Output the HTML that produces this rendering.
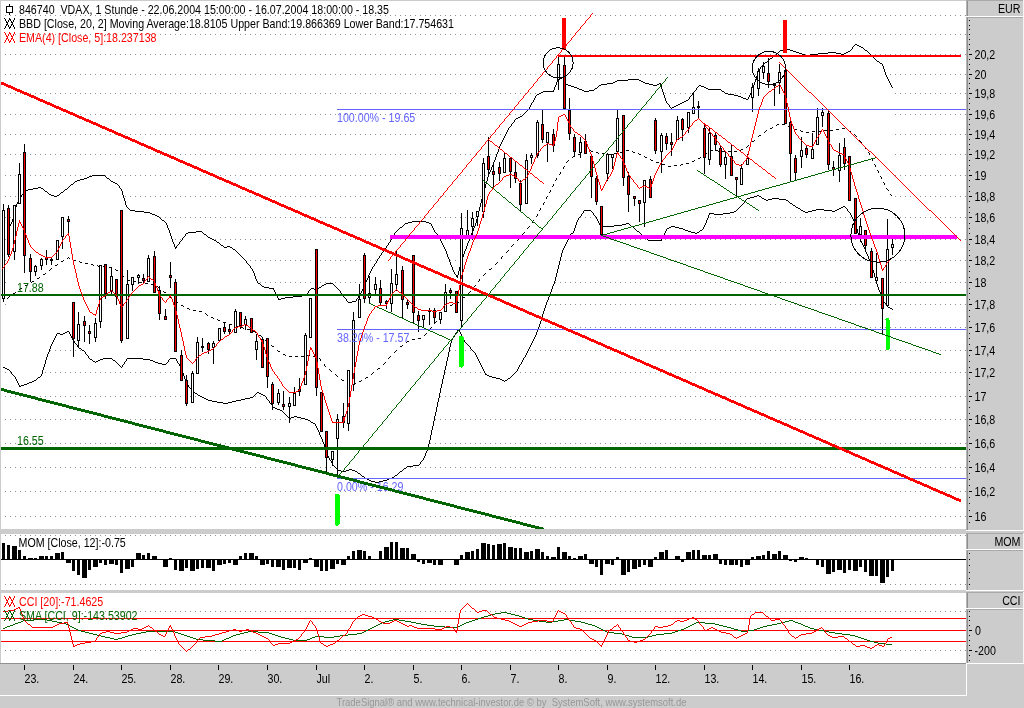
<!DOCTYPE html>
<html><head><meta charset="utf-8"><title>VDAX</title>
<style>html,body{margin:0;padding:0;background:#cccccc;}body{width:1024px;height:708px;overflow:hidden;font-family:"Liberation Sans",sans-serif;}svg{display:block;will-change:transform}text{font-family:"Liberation Sans",sans-serif;font-size:13px;}</style>
</head><body>
<svg width="1024" height="708" viewBox="0 0 1024 708" shape-rendering="crispEdges">
<rect x="0" y="0" width="1024" height="708" fill="#cccccc"/>
<rect x="1" y="1" width="965" height="528" fill="#fff"/>
<rect x="1" y="534" width="965" height="56" fill="#fff"/>
<rect x="1" y="593" width="965" height="70" fill="#fff"/>
<defs><clipPath id="cm"><rect x="1" y="1" width="965" height="528"/></clipPath><clipPath id="c2"><rect x="1" y="534" width="965" height="56"/></clipPath><clipPath id="c3"><rect x="1" y="593" width="965" height="70"/></clipPath></defs>
<g stroke="#909090" stroke-width="1" stroke-dasharray="1 4" clip-path="url(#cm)">
<line x1="5" y1="15.5" x2="966" y2="15.5"/>
<line x1="5" y1="34.5" x2="966" y2="34.5"/>
<line x1="5" y1="54.5" x2="966" y2="54.5"/>
<line x1="5" y1="74.5" x2="966" y2="74.5"/>
<line x1="5" y1="93.5" x2="966" y2="93.5"/>
<line x1="5" y1="114.5" x2="966" y2="114.5"/>
<line x1="5" y1="134.5" x2="966" y2="134.5"/>
<line x1="5" y1="154.5" x2="966" y2="154.5"/>
<line x1="5" y1="175.5" x2="966" y2="175.5"/>
<line x1="5" y1="196.5" x2="966" y2="196.5"/>
<line x1="5" y1="217.5" x2="966" y2="217.5"/>
<line x1="5" y1="239.5" x2="966" y2="239.5"/>
<line x1="5" y1="260.5" x2="966" y2="260.5"/>
<line x1="5" y1="282.5" x2="966" y2="282.5"/>
<line x1="5" y1="304.5" x2="966" y2="304.5"/>
<line x1="5" y1="327.5" x2="966" y2="327.5"/>
<line x1="5" y1="350.5" x2="966" y2="350.5"/>
<line x1="5" y1="372.5" x2="966" y2="372.5"/>
<line x1="5" y1="396.5" x2="966" y2="396.5"/>
<line x1="5" y1="419.5" x2="966" y2="419.5"/>
<line x1="5" y1="443.5" x2="966" y2="443.5"/>
<line x1="5" y1="467.5" x2="966" y2="467.5"/>
<line x1="5" y1="491.5" x2="966" y2="491.5"/>
<line x1="5" y1="516.5" x2="966" y2="516.5"/>
</g>
<g stroke="#909090" stroke-width="1" stroke-dasharray="1 4">
<line x1="5" y1="535.5" x2="966" y2="535.5"/>
<line x1="5" y1="584.5" x2="966" y2="584.5"/>
<line x1="5" y1="611.5" x2="966" y2="611.5"/>
<line x1="5" y1="650.5" x2="966" y2="650.5"/>
</g>
<g clip-path="url(#cm)">
<polygon points="9.5,227.0 12.5,220.0 16.8,204.8 20.0,197.0 25.7,190.3 40.5,187.4 51.4,195.3 56.4,196.3 67.3,188.4 75.2,181.4 85.0,178.9 93.0,175.5 104.8,175.5 110.8,180.8 116.7,183.4 121.7,189.3 126.6,206.2 130.6,210.7 148.4,212.1 158.3,216.0 166.2,223.0 175.0,248.3 186.0,233.9 190.0,232.9 201.7,231.5 208.6,237.4 215.4,240.7 224.2,247.1 229.1,246.2 235.9,250.1 244.7,259.8 252.5,269.6 257.4,282.3 264.2,287.2 273.0,288.2 278.9,299.3 287.7,297.6 299.4,296.8 305.2,295.0 311.1,288.2 316.6,289.1 326.7,283.3 332.6,283.3 338.4,289.1 344.3,297.8 348.2,302.0 355.0,301.8 359.9,295.0 364.8,285.2 371.6,269.6 380.4,255.9 391.7,239.6 395.6,232.7 405.4,223.9 414.2,221.6 424.9,221.6 430.8,223.9 435.7,232.7 438.6,236.7 446.4,252.3 453.2,271.9 457.1,277.7 460.1,264.1 464.0,252.3 469.7,239.5 475.7,224.9 481.6,200.5 488.4,175.1 493.3,163.4 499.1,147.7 505.0,134.1 509.3,127.0 515.2,119.1 521.0,116.8 528.8,109.4 536.6,95.7 544.5,91.8 553.2,91.8 557.1,80.1 562.0,77.1 566.9,84.0 575.7,87.9 585.5,91.2 593.3,90.8 601.1,84.0 612.8,83.0 618.7,80.1 638.2,79.1 646.0,83.0 655.8,85.9 660.0,83.8 662.7,90.6 666.8,102.9 671.6,108.4 677.8,105.6 687.3,100.2 693.5,92.6 699.0,85.1 703.8,86.5 709.9,89.2 720.2,89.2 725.6,93.3 736.6,95.4 747.5,99.5 750.9,94.7 754.3,83.8 758.4,71.4 761.9,66.0 769.4,59.1 776.2,54.4 780.3,50.9 788.5,49.8 800.5,53.0 806.4,55.3 814.2,54.9 822.0,53.0 833.8,52.0 843.5,54.5 849.4,51.0 855.2,44.2 862.1,47.1 869.9,53.4 876.7,60.4 882.6,64.7 886.5,76.4 892.0,87.7 892.7,309.8 887.6,306.4 882.3,299.6 876.4,282.0 871.2,264.5 865.7,250.8 859.8,237.1 855.0,224.4 850.0,213.5 844.0,206.4 833.2,211.7 830.0,210.0 818.7,209.9 805.5,212.4 795.2,206.2 785.3,199.2 773.6,198.8 766.8,200.2 758.0,195.5 752.1,197.8 747.2,198.8 741.4,205.6 735.5,211.5 728.7,213.4 718.9,214.4 709.5,213.4 706.2,221.3 702.3,229.1 696.4,233.4 689.6,231.4 681.8,228.1 672.0,226.1 667.1,228.1 664.2,233.9 661.3,240.2 648.6,240.2 641.8,234.5 634.9,228.1 628.1,223.2 619.3,225.2 609.5,226.1 600.7,226.1 595.9,216.4 590.5,210.5 584.6,210.2 577.8,220.0 573.4,232.7 570.4,234.8 562.6,250.4 555.8,279.7 546.0,303.1 538.2,328.5 533.3,340.0 524.5,357.6 516.7,371.3 510.9,377.1 504.6,381.0 499.1,378.1 493.3,377.1 485.5,374.2 475.7,353.7 465.9,342.2 458.1,329.5 451.3,340.0 446.4,363.4 440.5,390.8 434.7,418.1 428.8,446.4 424.9,457.2 418.1,465.0 407.3,466.6 393.7,477.7 385.3,480.9 377.5,482.9 369.7,480.9 361.9,475.1 356.0,471.2 350.2,469.8 344.3,471.2 338.4,470.2 333.6,465.3 328.7,457.5 324.8,445.8 319.9,433.1 315.0,424.0 307.2,419.0 299.4,417.9 295.5,416.1 289.6,418.2 281.8,410.8 273.0,407.5 268.1,400.9 264.2,395.5 257.4,392.1 252.5,397.0 238.8,400.6 225.2,403.0 209.5,400.2 197.8,394.5 192.4,391.6 186.5,383.8 181.3,368.1 175.8,358.4 170.5,358.8 165.6,364.2 159.6,363.2 148.4,359.3 138.7,358.4 127.3,358.8 121.5,367.5 116.6,362.3 111.3,358.4 105.5,358.4 100.6,359.3 95.3,362.3 89.5,358.4 84.4,351.5 78.5,347.6 73.2,340.4 68.4,331.4 62.5,334.5 57.4,333.4 51.6,344.7 46.5,358.4 41.4,375.0 35.2,380.8 25.4,384.1 19.5,386.7 14.6,376.9 8.8,369.5 3.9,367.5" fill="#fff" stroke="none"/>
<path d="M9 227.5h1M9 226.5h1M10 225.5h1M10 224.5h1M11 223.5h1M11 222.5h1M12 221.5h1M12 220.5h1M12 219.5h1M13 218.5h1M13 217.5h1M13 216.5h1M13 215.5h1M14 214.5h1M14 213.5h1M14 212.5h1M14 211.5h1M15 210.5h1M15 209.5h1M15 208.5h1M15 207.5h1M16 206.5h1M16 205.5h1M16 204.5h1M17 203.5h1M17 202.5h1M18 201.5h1M18 200.5h1M19 199.5h1M19 198.5h1M20 197.5h1M21 196.5h1M21 195.5h1M22 194.5h1M23 193.5h1M24 192.5h1M24 191.5h1M25 190.5h3M28 189.5h5M33 188.5h5M38 187.5h3M41 188.5h2M43 189.5h1M44 190.5h1M45 191.5h2M47 192.5h1M48 193.5h1M49 194.5h2M51 195.5h3M54 196.5h3M57 195.5h2M59 194.5h1M60 193.5h1M61 192.5h2M63 191.5h1M64 190.5h1M65 189.5h2M67 188.5h1M68 187.5h1M69 186.5h1M70 185.5h1M71 184.5h2M73 183.5h1M74 182.5h1M75 181.5h2M77 180.5h3M80 179.5h4M84 178.5h3M87 177.5h2M89 176.5h3M92 175.5h13M105 176.5h1M106 177.5h1M107 178.5h2M109 179.5h1M110 180.5h1M111 181.5h2M113 182.5h2M115 183.5h2M117 184.5h1M118 185.5h1M119 186.5h1M119 187.5h1M120 188.5h1M121 189.5h1M121 190.5h1M122 191.5h1M122 192.5h1M122 193.5h1M122 194.5h1M123 195.5h1M123 196.5h1M123 197.5h1M124 198.5h1M124 199.5h1M124 200.5h1M125 201.5h1M125 202.5h1M125 203.5h1M125 204.5h1M126 205.5h1M126 206.5h1M127 207.5h1M128 208.5h1M129 209.5h1M130 210.5h5M135 211.5h9M144 212.5h6M150 213.5h2M152 214.5h3M155 215.5h2M157 216.5h2M159 217.5h1M160 218.5h1M161 219.5h1M162 220.5h2M164 221.5h1M165 222.5h1M166 223.5h1M166 224.5h1M167 225.5h1M167 226.5h1M167 227.5h1M168 228.5h1M168 229.5h1M169 230.5h1M169 231.5h1M169 232.5h1M170 233.5h1M170 234.5h1M170 235.5h1M171 236.5h1M171 237.5h1M171 238.5h1M172 239.5h1M172 240.5h1M172 241.5h1M173 242.5h1M173 243.5h1M174 244.5h1M174 245.5h1M174 246.5h1M175 247.5h1M175 248.5h1M176 247.5h1M176 246.5h1M177 245.5h1M178 244.5h1M179 243.5h1M179 242.5h1M180 241.5h1M181 240.5h1M182 239.5h1M182 238.5h1M183 237.5h1M184 236.5h1M185 235.5h1M185 234.5h1M186 233.5h2M188 232.5h8M196 231.5h6M202 232.5h1M203 233.5h1M204 234.5h2M206 235.5h1M207 236.5h1M208 237.5h2M210 238.5h2M212 239.5h2M214 240.5h2M216 241.5h1M217 242.5h2M219 243.5h1M220 244.5h1M221 245.5h2M223 246.5h1M224 247.5h3M227 246.5h3M230 247.5h2M232 248.5h1M233 249.5h2M235 250.5h1M236 251.5h1M237 252.5h1M238 253.5h1M239 254.5h1M240 255.5h1M241 256.5h1M242 257.5h1M243 258.5h1M244 259.5h1M245 260.5h1M246 261.5h1M246 262.5h1M247 263.5h1M248 264.5h1M249 265.5h1M250 266.5h1M250 267.5h1M251 268.5h1M252 269.5h1M252 270.5h1M253 271.5h1M253 272.5h1M254 273.5h1M254 274.5h1M254 275.5h1M255 276.5h1M255 277.5h1M255 278.5h1M256 279.5h1M256 280.5h1M257 281.5h1M257 282.5h1M258 283.5h2M260 284.5h1M261 285.5h1M262 286.5h2M264 287.5h5M269 288.5h5M273 289.5h1M274 290.5h1M274 291.5h1M275 292.5h1M275 293.5h1M276 294.5h1M276 295.5h1M277 296.5h1M277 297.5h1M278 298.5h1M278 299.5h3M281 298.5h4M285 297.5h8M293 296.5h9M302 295.5h4M306 294.5h1M307 293.5h1M308 292.5h1M308 291.5h1M309 290.5h1M310 289.5h1M311 288.5h3M314 289.5h3M317 288.5h2M319 287.5h2M321 286.5h1M322 285.5h2M324 284.5h2M326 283.5h7M333 284.5h1M334 285.5h1M335 286.5h1M336 287.5h1M337 288.5h1M338 289.5h1M339 290.5h1M340 291.5h1M340 292.5h1M341 293.5h1M342 294.5h1M343 295.5h1M343 296.5h1M344 297.5h1M345 298.5h1M346 299.5h1M346 300.5h1M347 301.5h1M348 302.5h4M352 301.5h4M356 300.5h1M356 299.5h1M357 298.5h1M358 297.5h1M358 296.5h1M359 295.5h1M360 294.5h1M360 293.5h1M361 292.5h1M361 291.5h1M362 290.5h1M362 289.5h1M363 288.5h1M363 287.5h1M364 286.5h1M364 285.5h1M364 284.5h1M365 283.5h1M365 282.5h1M366 281.5h1M366 280.5h1M367 279.5h1M367 278.5h1M368 277.5h1M368 276.5h1M368 275.5h1M369 274.5h1M369 273.5h1M370 272.5h1M370 271.5h1M371 270.5h1M371 269.5h1M372 268.5h1M372 267.5h1M373 266.5h1M374 265.5h1M374 264.5h1M375 263.5h1M376 262.5h1M376 261.5h1M377 260.5h1M377 259.5h1M378 258.5h1M379 257.5h1M379 256.5h1M380 255.5h1M381 254.5h1M381 253.5h1M382 252.5h1M383 251.5h1M383 250.5h1M384 249.5h1M385 248.5h1M386 247.5h1M386 246.5h1M387 245.5h1M388 244.5h1M388 243.5h1M389 242.5h1M390 241.5h1M390 240.5h1M391 239.5h1M392 238.5h1M392 237.5h1M393 236.5h1M393 235.5h1M394 234.5h1M394 233.5h1M395 232.5h1M396 231.5h1M397 230.5h1M398 229.5h1M399 228.5h1M400 227.5h2M402 226.5h1M403 225.5h1M404 224.5h1M405 223.5h3M408 222.5h4M412 221.5h14M426 222.5h3M429 223.5h2M431 224.5h1M431 225.5h1M432 226.5h1M432 227.5h1M433 228.5h1M433 229.5h1M434 230.5h1M434 231.5h1M435 232.5h1M436 233.5h1M437 234.5h1M437 235.5h1M438 236.5h1M439 237.5h1M439 238.5h1M440 239.5h1M440 240.5h1M441 241.5h1M441 242.5h1M442 243.5h1M442 244.5h1M443 245.5h1M443 246.5h1M444 247.5h1M444 248.5h1M445 249.5h1M445 250.5h1M446 251.5h1M446 252.5h1M446 253.5h1M447 254.5h1M447 255.5h1M447 256.5h1M448 257.5h1M448 258.5h1M449 259.5h1M449 260.5h1M449 261.5h1M450 262.5h1M450 263.5h1M450 264.5h1M451 265.5h1M451 266.5h1M452 267.5h1M452 268.5h1M452 269.5h1M453 270.5h1M453 271.5h1M454 272.5h1M454 273.5h1M455 274.5h1M456 275.5h1M456 276.5h1M457 277.5h1M457 276.5h1M457 275.5h1M458 274.5h1M458 273.5h1M458 272.5h1M458 271.5h1M459 270.5h1M459 269.5h1M459 268.5h1M459 267.5h1M460 266.5h1M460 265.5h1M460 264.5h1M460 263.5h1M461 262.5h1M461 261.5h1M461 260.5h1M462 259.5h1M462 258.5h1M462 257.5h1M463 256.5h1M463 255.5h1M463 254.5h1M464 253.5h1M464 252.5h1M464 251.5h1M465 250.5h1M465 249.5h1M466 248.5h1M466 247.5h1M466 246.5h1M467 245.5h1M467 244.5h1M467 243.5h1M468 242.5h1M468 241.5h1M469 240.5h1M469 239.5h1M469 238.5h1M470 237.5h1M470 236.5h1M471 235.5h1M471 234.5h1M471 233.5h1M472 232.5h1M472 231.5h1M473 230.5h1M473 229.5h1M473 228.5h1M474 227.5h1M474 226.5h1M475 225.5h1M475 224.5h1M475 223.5h1M476 222.5h1M476 221.5h1M476 220.5h1M476 219.5h1M477 218.5h1M477 217.5h1M477 216.5h1M477 215.5h1M478 214.5h1M478 213.5h1M478 212.5h1M478 211.5h1M479 210.5h1M479 209.5h1M479 208.5h1M479 207.5h1M480 206.5h1M480 205.5h1M480 204.5h1M480 203.5h1M481 202.5h1M481 201.5h1M481 200.5h1M481 199.5h1M482 198.5h1M482 197.5h1M482 196.5h1M482 195.5h1M483 194.5h1M483 193.5h1M483 192.5h1M484 191.5h1M484 190.5h1M484 189.5h1M484 188.5h1M485 187.5h1M485 186.5h1M485 185.5h1M485 184.5h1M486 183.5h1M486 182.5h1M486 181.5h1M487 180.5h1M487 179.5h1M487 178.5h1M487 177.5h1M488 176.5h1M488 175.5h1M488 174.5h1M489 173.5h1M489 172.5h1M490 171.5h1M490 170.5h1M491 169.5h1M491 168.5h1M491 167.5h1M492 166.5h1M492 165.5h1M493 164.5h1M493 163.5h1M493 162.5h1M494 161.5h1M494 160.5h1M495 159.5h1M495 158.5h1M495 157.5h1M496 156.5h1M496 155.5h1M496 154.5h1M497 153.5h1M497 152.5h1M498 151.5h1M498 150.5h1M498 149.5h1M499 148.5h1M499 147.5h1M499 146.5h1M500 145.5h1M500 144.5h1M501 143.5h1M501 142.5h1M502 141.5h1M502 140.5h1M503 139.5h1M503 138.5h1M504 137.5h1M504 136.5h1M505 135.5h1M505 134.5h1M506 133.5h1M506 132.5h1M507 131.5h1M507 130.5h1M508 129.5h1M508 128.5h1M509 127.5h1M510 126.5h1M511 125.5h1M511 124.5h1M512 123.5h1M513 122.5h1M514 121.5h1M514 120.5h1M515 119.5h1M516 118.5h2M518 117.5h2M520 116.5h2M522 115.5h1M523 114.5h1M524 113.5h1M525 112.5h1M526 111.5h1M527 110.5h1M528 109.5h1M529 108.5h1M529 107.5h1M530 106.5h1M530 105.5h1M531 104.5h1M531 103.5h1M532 102.5h1M533 101.5h1M533 100.5h1M534 99.5h1M534 98.5h1M535 97.5h1M535 96.5h1M536 95.5h1M537 94.5h2M539 93.5h2M541 92.5h2M543 91.5h11M553 90.5h1M554 89.5h1M554 88.5h1M554 87.5h1M555 86.5h1M555 85.5h1M556 84.5h1M556 83.5h1M556 82.5h1M557 81.5h1M557 80.5h1M558 79.5h2M560 78.5h2M562 77.5h1M563 78.5h1M563 79.5h1M564 80.5h1M564 81.5h1M565 82.5h1M565 83.5h1M566 84.5h2M568 85.5h3M571 86.5h3M574 87.5h3M577 88.5h2M579 89.5h3M582 90.5h2M584 91.5h5M589 90.5h5M594 89.5h1M595 88.5h2M597 87.5h1M598 86.5h1M599 85.5h2M601 84.5h6M607 83.5h6M613 82.5h2M615 81.5h2M617 80.5h11M628 79.5h11M639 80.5h2M641 81.5h2M643 82.5h2M645 83.5h4M649 84.5h4M653 85.5h4M657 84.5h2M659 83.5h2M660 84.5h1M661 85.5h1M661 86.5h1M661 87.5h1M661 88.5h1M662 89.5h1M662 90.5h1M662 91.5h1M663 92.5h1M663 93.5h1M663 94.5h1M664 95.5h1M664 96.5h1M664 97.5h1M665 98.5h1M665 99.5h1M665 100.5h1M666 101.5h1M666 102.5h1M667 103.5h1M668 104.5h1M669 105.5h1M669 106.5h1M670 107.5h1M671 108.5h1M672 107.5h2M674 106.5h2M676 105.5h2M678 104.5h2M680 103.5h2M682 102.5h2M684 101.5h2M686 100.5h2M688 99.5h1M689 98.5h1M689 97.5h1M690 96.5h1M691 95.5h1M692 94.5h1M692 93.5h1M693 92.5h1M694 91.5h1M695 90.5h1M696 89.5h1M696 88.5h1M697 87.5h1M698 86.5h1M699 85.5h2M701 86.5h3M704 87.5h2M706 88.5h2M708 89.5h13M721 90.5h1M722 91.5h2M724 92.5h1M725 93.5h3M728 94.5h6M734 95.5h4M738 96.5h3M741 97.5h2M743 98.5h3M746 99.5h2M748 98.5h1M748 97.5h1M749 96.5h1M749 95.5h1M750 94.5h1M750 93.5h1M751 92.5h1M751 91.5h1M751 90.5h1M752 89.5h1M752 88.5h1M753 87.5h1M753 86.5h1M753 85.5h1M754 84.5h1M754 83.5h1M754 82.5h1M755 81.5h1M755 80.5h1M755 79.5h1M756 78.5h1M756 77.5h1M756 76.5h1M757 75.5h1M757 74.5h1M757 73.5h1M758 72.5h1M758 71.5h1M759 70.5h1M759 69.5h1M760 68.5h1M760 67.5h1M761 66.5h1M762 65.5h1M763 64.5h1M764 63.5h1M765 62.5h2M767 61.5h1M768 60.5h1M769 59.5h1M770 58.5h2M772 57.5h1M773 56.5h1M774 55.5h2M776 54.5h1M777 53.5h1M778 52.5h1M779 51.5h1M780 50.5h4M784 49.5h6M790 50.5h3M793 51.5h3M796 52.5h3M799 53.5h3M802 54.5h3M805 55.5h5M810 54.5h8M818 53.5h10M828 52.5h8M836 53.5h5M841 54.5h3M844 53.5h2M846 52.5h2M848 51.5h2M850 50.5h1M851 49.5h1M852 48.5h1M852 47.5h1M853 46.5h1M854 45.5h1M855 44.5h2M857 45.5h2M859 46.5h2M861 47.5h2M863 48.5h1M864 49.5h1M865 50.5h2M867 51.5h1M868 52.5h1M869 53.5h1M870 54.5h1M871 55.5h1M872 56.5h1M873 57.5h1M874 58.5h1M875 59.5h1M876 60.5h1M877 61.5h2M879 62.5h1M880 63.5h2M882 64.5h1M882 65.5h1M883 66.5h1M883 67.5h1M883 68.5h1M884 69.5h1M884 70.5h1M884 71.5h1M885 72.5h1M885 73.5h1M885 74.5h1M886 75.5h1M886 76.5h1M887 77.5h1M887 78.5h1M888 79.5h1M888 80.5h1M889 81.5h1M889 82.5h1M890 83.5h1M890 84.5h1M891 85.5h1M891 86.5h1M892 87.5h1" stroke="#000" stroke-width="1" fill="none"/>
<path d="M3 367.5h2M5 368.5h2M7 369.5h2M9 370.5h1M10 371.5h1M11 372.5h1M11 373.5h1M12 374.5h1M13 375.5h1M14 376.5h1M15 377.5h1M15 378.5h1M16 379.5h1M16 380.5h1M17 381.5h1M17 382.5h1M18 383.5h1M18 384.5h1M19 385.5h1M19 386.5h2M21 385.5h3M24 384.5h3M27 383.5h2M29 382.5h3M32 381.5h2M34 380.5h2M36 379.5h1M37 378.5h1M38 377.5h2M40 376.5h1M41 375.5h1M41 374.5h1M42 373.5h1M42 372.5h1M42 371.5h1M42 370.5h1M43 369.5h1M43 368.5h1M43 367.5h1M44 366.5h1M44 365.5h1M44 364.5h1M45 363.5h1M45 362.5h1M45 361.5h1M45 360.5h1M46 359.5h1M46 358.5h1M46 357.5h1M47 356.5h1M47 355.5h1M47 354.5h1M48 353.5h1M48 352.5h1M49 351.5h1M49 350.5h1M49 349.5h1M50 348.5h1M50 347.5h1M50 346.5h1M51 345.5h1M51 344.5h1M52 343.5h1M52 342.5h1M53 341.5h1M53 340.5h1M54 339.5h1M54 338.5h1M55 337.5h1M55 336.5h1M56 335.5h1M56 334.5h1M57 333.5h3M60 334.5h3M63 333.5h2M65 332.5h2M67 331.5h2M69 332.5h1M69 333.5h1M70 334.5h1M70 335.5h1M71 336.5h1M71 337.5h1M72 338.5h1M72 339.5h1M73 340.5h1M74 341.5h1M74 342.5h1M75 343.5h1M76 344.5h1M77 345.5h1M77 346.5h1M78 347.5h1M79 348.5h2M81 349.5h1M82 350.5h2M84 351.5h1M85 352.5h1M85 353.5h1M86 354.5h1M87 355.5h1M88 356.5h1M88 357.5h1M89 358.5h1M90 359.5h2M92 360.5h1M93 361.5h2M95 362.5h1M96 361.5h2M98 360.5h2M100 359.5h3M103 358.5h9M112 359.5h1M113 360.5h2M115 361.5h1M116 362.5h1M117 363.5h1M118 364.5h1M119 365.5h1M120 366.5h1M121 367.5h1M122 366.5h1M122 365.5h1M123 364.5h1M124 363.5h1M124 362.5h1M125 361.5h1M126 360.5h1M126 359.5h1M127 358.5h16M143 359.5h7M150 360.5h3M153 361.5h2M155 362.5h3M158 363.5h4M162 364.5h4M166 363.5h1M167 362.5h1M168 361.5h1M168 360.5h1M169 359.5h1M170 358.5h6M176 359.5h1M176 360.5h1M177 361.5h1M177 362.5h1M178 363.5h1M179 364.5h1M179 365.5h1M180 366.5h1M180 367.5h1M181 368.5h1M181 369.5h1M182 370.5h1M182 371.5h1M182 372.5h1M183 373.5h1M183 374.5h1M183 375.5h1M184 376.5h1M184 377.5h1M184 378.5h1M185 379.5h1M185 380.5h1M185 381.5h1M186 382.5h1M186 383.5h1M187 384.5h1M188 385.5h1M188 386.5h1M189 387.5h1M190 388.5h1M191 389.5h1M191 390.5h1M192 391.5h1M193 392.5h2M195 393.5h2M197 394.5h1M198 395.5h2M200 396.5h2M202 397.5h2M204 398.5h2M206 399.5h2M208 400.5h4M212 401.5h5M217 402.5h6M223 403.5h5M228 402.5h4M232 401.5h4M236 400.5h5M241 399.5h4M245 398.5h5M250 397.5h3M253 396.5h1M254 395.5h1M255 394.5h1M256 393.5h1M257 392.5h2M259 393.5h2M261 394.5h2M263 395.5h2M265 396.5h1M266 397.5h1M266 398.5h1M267 399.5h1M268 400.5h1M269 401.5h1M269 402.5h1M270 403.5h1M271 404.5h1M272 405.5h1M272 406.5h1M273 407.5h2M275 408.5h2M277 409.5h3M280 410.5h2M282 411.5h1M283 412.5h1M284 413.5h1M285 414.5h1M286 415.5h1M287 416.5h1M288 417.5h1M289 418.5h2M291 417.5h3M294 416.5h3M297 417.5h4M301 418.5h4M305 419.5h3M308 420.5h2M310 421.5h1M311 422.5h2M313 423.5h2M315 424.5h1M315 425.5h1M316 426.5h1M316 427.5h1M317 428.5h1M317 429.5h1M318 430.5h1M318 431.5h1M319 432.5h1M319 433.5h1M319 434.5h1M320 435.5h1M320 436.5h1M321 437.5h1M321 438.5h1M322 439.5h1M322 440.5h1M322 441.5h1M323 442.5h1M323 443.5h1M324 444.5h1M324 445.5h1M324 446.5h1M325 447.5h1M325 448.5h1M325 449.5h1M326 450.5h1M326 451.5h1M326 452.5h1M327 453.5h1M327 454.5h1M327 455.5h1M328 456.5h1M328 457.5h1M329 458.5h1M329 459.5h1M330 460.5h1M331 461.5h1M331 462.5h1M332 463.5h1M332 464.5h1M333 465.5h1M334 466.5h1M335 467.5h1M336 468.5h1M337 469.5h1M338 470.5h3M341 471.5h5M346 470.5h3M349 469.5h3M352 470.5h3M355 471.5h2M357 472.5h1M358 473.5h2M360 474.5h1M361 475.5h1M362 476.5h2M364 477.5h1M365 478.5h2M367 479.5h2M369 480.5h2M371 481.5h4M375 482.5h4M379 481.5h4M383 480.5h4M387 479.5h2M389 478.5h3M392 477.5h2M394 476.5h1M395 475.5h2M397 474.5h1M398 473.5h1M399 472.5h1M400 471.5h2M402 470.5h1M403 469.5h1M404 468.5h2M406 467.5h1M407 466.5h6M413 465.5h6M419 464.5h1M420 463.5h1M420 462.5h1M421 461.5h1M422 460.5h1M423 459.5h1M423 458.5h1M424 457.5h1M424 456.5h1M425 455.5h1M425 454.5h1M425 453.5h1M426 452.5h1M426 451.5h1M427 450.5h1M427 449.5h1M427 448.5h1M428 447.5h1M428 446.5h1M428 445.5h1M428 444.5h1M429 443.5h1M429 442.5h1M429 441.5h1M429 440.5h1M430 439.5h1M430 438.5h1M430 437.5h1M430 436.5h1M430 435.5h1M431 434.5h1M431 433.5h1M431 432.5h1M431 431.5h1M431 430.5h1M432 429.5h1M432 428.5h1M432 427.5h1M432 426.5h1M433 425.5h1M433 424.5h1M433 423.5h1M433 422.5h1M433 421.5h1M434 420.5h1M434 419.5h1M434 418.5h1M434 417.5h1M434 416.5h1M435 415.5h1M435 414.5h1M435 413.5h1M435 412.5h1M436 411.5h1M436 410.5h1M436 409.5h1M436 408.5h1M436 407.5h1M437 406.5h1M437 405.5h1M437 404.5h1M437 403.5h1M437 402.5h1M438 401.5h1M438 400.5h1M438 399.5h1M438 398.5h1M439 397.5h1M439 396.5h1M439 395.5h1M439 394.5h1M439 393.5h1M440 392.5h1M440 391.5h1M440 390.5h1M440 389.5h1M440 388.5h1M441 387.5h1M441 386.5h1M441 385.5h1M441 384.5h1M442 383.5h1M442 382.5h1M442 381.5h1M442 380.5h1M442 379.5h1M443 378.5h1M443 377.5h1M443 376.5h1M443 375.5h1M444 374.5h1M444 373.5h1M444 372.5h1M444 371.5h1M444 370.5h1M445 369.5h1M445 368.5h1M445 367.5h1M445 366.5h1M446 365.5h1M446 364.5h1M446 363.5h1M446 362.5h1M446 361.5h1M447 360.5h1M447 359.5h1M447 358.5h1M447 357.5h1M448 356.5h1M448 355.5h1M448 354.5h1M448 353.5h1M448 352.5h1M449 351.5h1M449 350.5h1M449 349.5h1M449 348.5h1M449 347.5h1M450 346.5h1M450 345.5h1M450 344.5h1M450 343.5h1M451 342.5h1M451 341.5h1M451 340.5h1M452 339.5h1M452 338.5h1M453 337.5h1M454 336.5h1M454 335.5h1M455 334.5h1M455 333.5h1M456 332.5h1M457 331.5h1M457 330.5h1M458 329.5h1M459 330.5h1M459 331.5h1M460 332.5h1M460 333.5h1M461 334.5h1M461 335.5h1M462 336.5h1M462 337.5h1M463 338.5h1M463 339.5h1M464 340.5h1M464 341.5h1M465 342.5h1M466 343.5h1M467 344.5h1M468 345.5h1M469 346.5h1M470 347.5h1M470 348.5h1M471 349.5h1M472 350.5h1M473 351.5h1M474 352.5h1M475 353.5h1M475 354.5h1M476 355.5h1M476 356.5h1M477 357.5h1M477 358.5h1M478 359.5h1M478 360.5h1M479 361.5h1M479 362.5h1M480 363.5h1M480 364.5h1M481 365.5h1M481 366.5h1M482 367.5h1M482 368.5h1M483 369.5h1M483 370.5h1M484 371.5h1M484 372.5h1M485 373.5h1M485 374.5h2M487 375.5h2M489 376.5h3M492 377.5h4M496 378.5h4M500 379.5h2M502 380.5h2M504 381.5h1M505 380.5h2M507 379.5h1M508 378.5h2M510 377.5h1M511 376.5h1M512 375.5h1M513 374.5h1M514 373.5h1M515 372.5h1M516 371.5h1M517 370.5h1M517 369.5h1M518 368.5h1M518 367.5h1M519 366.5h1M519 365.5h1M520 364.5h1M521 363.5h1M521 362.5h1M522 361.5h1M522 360.5h1M523 359.5h1M523 358.5h1M524 357.5h1M525 356.5h1M525 355.5h1M526 354.5h1M526 353.5h1M527 352.5h1M527 351.5h1M528 350.5h1M528 349.5h1M529 348.5h1M529 347.5h1M530 346.5h1M530 345.5h1M531 344.5h1M531 343.5h1M532 342.5h1M532 341.5h1M533 340.5h1M533 339.5h1M534 338.5h1M534 337.5h1M535 336.5h1M535 335.5h1M536 334.5h1M536 333.5h1M536 332.5h1M537 331.5h1M537 330.5h1M538 329.5h1M538 328.5h1M538 327.5h1M539 326.5h1M539 325.5h1M539 324.5h1M540 323.5h1M540 322.5h1M540 321.5h1M541 320.5h1M541 319.5h1M541 318.5h1M542 317.5h1M542 316.5h1M542 315.5h1M542 314.5h1M543 313.5h1M543 312.5h1M543 311.5h1M544 310.5h1M544 309.5h1M544 308.5h1M545 307.5h1M545 306.5h1M545 305.5h1M546 304.5h1M546 303.5h1M546 302.5h1M547 301.5h1M547 300.5h1M548 299.5h1M548 298.5h1M548 297.5h1M549 296.5h1M549 295.5h1M549 294.5h1M550 293.5h1M550 292.5h1M551 291.5h1M551 290.5h1M551 289.5h1M552 288.5h1M552 287.5h1M552 286.5h1M553 285.5h1M553 284.5h1M554 283.5h1M554 282.5h1M554 281.5h1M555 280.5h1M555 279.5h1M555 278.5h1M555 277.5h1M556 276.5h1M556 275.5h1M556 274.5h1M556 273.5h1M557 272.5h1M557 271.5h1M557 270.5h1M557 269.5h1M558 268.5h1M558 267.5h1M558 266.5h1M558 265.5h1M559 264.5h1M559 263.5h1M559 262.5h1M559 261.5h1M560 260.5h1M560 259.5h1M560 258.5h1M560 257.5h1M561 256.5h1M561 255.5h1M561 254.5h1M561 253.5h1M562 252.5h1M562 251.5h1M562 250.5h1M563 249.5h1M563 248.5h1M564 247.5h1M564 246.5h1M565 245.5h1M565 244.5h1M566 243.5h1M566 242.5h1M567 241.5h1M567 240.5h1M568 239.5h1M568 238.5h1M569 237.5h1M569 236.5h1M570 235.5h1M570 234.5h1M571 233.5h2M573 232.5h1M573 231.5h1M574 230.5h1M574 229.5h1M574 228.5h1M575 227.5h1M575 226.5h1M575 225.5h1M576 224.5h1M576 223.5h1M576 222.5h1M577 221.5h1M577 220.5h1M578 219.5h1M578 218.5h1M579 217.5h1M580 216.5h1M581 215.5h1M581 214.5h1M582 213.5h1M583 212.5h1M583 211.5h1M584 210.5h7M591 211.5h1M592 212.5h1M593 213.5h1M593 214.5h1M594 215.5h1M595 216.5h1M596 217.5h1M596 218.5h1M597 219.5h1M597 220.5h1M598 221.5h1M598 222.5h1M599 223.5h1M599 224.5h1M600 225.5h1M600 226.5h14M614 225.5h8M622 224.5h4M626 223.5h3M629 224.5h1M630 225.5h1M631 226.5h2M633 227.5h1M634 228.5h1M635 229.5h1M636 230.5h1M637 231.5h2M639 232.5h1M640 233.5h1M641 234.5h1M642 235.5h1M643 236.5h1M644 237.5h2M646 238.5h1M647 239.5h1M648 240.5h14M661 239.5h1M662 238.5h1M662 237.5h1M663 236.5h1M663 235.5h1M664 234.5h1M664 233.5h1M665 232.5h1M665 231.5h1M666 230.5h1M666 229.5h1M667 228.5h2M669 227.5h2M671 226.5h4M675 227.5h4M679 228.5h4M683 229.5h2M685 230.5h3M688 231.5h3M691 232.5h4M695 233.5h2M697 232.5h2M699 231.5h1M700 230.5h2M702 229.5h1M703 228.5h1M703 227.5h1M704 226.5h1M704 225.5h1M705 224.5h1M705 223.5h1M706 222.5h1M706 221.5h1M706 220.5h1M707 219.5h1M707 218.5h1M708 217.5h1M708 216.5h1M708 215.5h1M709 214.5h1M709 213.5h5M714 214.5h9M723 213.5h7M730 212.5h4M734 211.5h2M736 210.5h1M737 209.5h1M738 208.5h1M739 207.5h1M740 206.5h1M741 205.5h1M742 204.5h1M743 203.5h1M744 202.5h1M744 201.5h1M745 200.5h1M746 199.5h1M747 198.5h3M750 197.5h4M754 196.5h3M757 195.5h2M759 196.5h2M761 197.5h1M762 198.5h2M764 199.5h2M766 200.5h2M768 199.5h4M772 198.5h7M779 199.5h7M786 200.5h2M788 201.5h1M789 202.5h1M790 203.5h2M792 204.5h1M793 205.5h2M795 206.5h1M796 207.5h2M798 208.5h2M800 209.5h1M801 210.5h2M803 211.5h2M805 212.5h3M808 211.5h4M812 210.5h4M816 209.5h8M824 210.5h8M832 211.5h3M835 210.5h2M837 209.5h2M839 208.5h2M841 207.5h2M843 206.5h2M845 207.5h1M846 208.5h1M847 209.5h1M847 210.5h1M848 211.5h1M849 212.5h1M850 213.5h1M850 214.5h1M851 215.5h1M851 216.5h1M852 217.5h1M852 218.5h1M853 219.5h1M853 220.5h1M854 221.5h1M854 222.5h1M855 223.5h1M855 224.5h1M855 225.5h1M856 226.5h1M856 227.5h1M856 228.5h1M857 229.5h1M857 230.5h1M857 231.5h1M857 232.5h1M858 233.5h1M858 234.5h1M858 235.5h1M859 236.5h1M859 237.5h1M859 238.5h1M860 239.5h1M860 240.5h1M861 241.5h1M861 242.5h1M862 243.5h1M862 244.5h1M863 245.5h1M863 246.5h1M864 247.5h1M864 248.5h1M865 249.5h1M865 250.5h1M865 251.5h1M866 252.5h1M866 253.5h1M867 254.5h1M867 255.5h1M868 256.5h1M868 257.5h1M868 258.5h1M869 259.5h1M869 260.5h1M870 261.5h1M870 262.5h1M871 263.5h1M871 264.5h1M871 265.5h1M872 266.5h1M872 267.5h1M872 268.5h1M872 269.5h1M873 270.5h1M873 271.5h1M873 272.5h1M874 273.5h1M874 274.5h1M874 275.5h1M874 276.5h1M875 277.5h1M875 278.5h1M875 279.5h1M875 280.5h1M876 281.5h1M876 282.5h1M876 283.5h1M877 284.5h1M877 285.5h1M877 286.5h1M878 287.5h1M878 288.5h1M878 289.5h1M879 290.5h1M879 291.5h1M880 292.5h1M880 293.5h1M880 294.5h1M881 295.5h1M881 296.5h1M881 297.5h1M882 298.5h1M882 299.5h1M883 300.5h1M883 301.5h1M884 302.5h1M885 303.5h1M886 304.5h1M886 305.5h1M887 306.5h1M888 307.5h2M890 308.5h2M892 309.5h1" stroke="#000" stroke-width="1" fill="none"/>
<path d="M7 298.5h1M8 297.5h1M9 296.5h1M13 293.5h2M15 292.5h1M19 289.5h1M20 288.5h2M25 285.5h2M27 284.5h1M31 282.5h1M32 281.5h2M37 278.5h2M39 277.5h1M43 274.5h2M45 273.5h1M49 270.5h1M50 269.5h1M51 268.5h1M55 265.5h2M57 264.5h1M61 261.5h2M63 260.5h1M67 258.5h1M68 257.5h1M69 258.5h1M73 260.5h3M79 261.5h1M80 262.5h2M85 263.5h3M91 264.5h2M93 265.5h1M97 265.5h1M98 266.5h2M103 266.5h3M109 267.5h3M115 269.5h1M116 270.5h2M121 274.5h1M122 275.5h1M123 276.5h1M127 280.5h3M133 281.5h3M139 282.5h3M145 283.5h3M151 284.5h3M157 286.5h1M158 287.5h1M159 288.5h1M163 291.5h1M164 292.5h2M169 296.5h1M170 297.5h2M175 301.5h1M176 302.5h2M181 305.5h2M183 306.5h1M187 308.5h2M189 309.5h1M193 310.5h3M199 311.5h3M205 313.5h1M206 314.5h1M207 315.5h1M211 317.5h2M213 318.5h1M217 319.5h1M218 320.5h2M223 322.5h3M229 324.5h3M235 326.5h3M241 327.5h2M243 328.5h1M247 329.5h3M253 331.5h2M255 332.5h1M259 335.5h2M261 336.5h1M265 340.5h2M267 341.5h1M271 345.5h1M272 346.5h2M277 350.5h1M278 351.5h2M283 354.5h2M285 355.5h1M289 356.5h3M295 356.5h3M301 356.5h3M307 355.5h3M313 356.5h3M319 358.5h1M320 359.5h1M320 360.5h1M324 364.5h1M324 365.5h1M325 366.5h1M329 369.5h1M330 370.5h1M331 371.5h1M335 374.5h1M336 375.5h1M337 376.5h1M341 379.5h1M342 380.5h2M347 382.5h3M353 383.5h3M359 381.5h2M361 380.5h1M365 378.5h1M366 377.5h2M371 374.5h1M372 373.5h1M373 372.5h1M377 369.5h1M378 368.5h2M383 364.5h1M384 363.5h1M385 362.5h1M388 358.5h1M389 357.5h1M390 356.5h1M394 352.5h1M395 351.5h1M396 350.5h1M400 346.5h2M402 345.5h1M406 342.5h1M407 341.5h2M412 339.5h3M418 338.5h3M424 335.5h1M425 334.5h1M426 333.5h1M429 329.5h1M430 328.5h1M431 327.5h1M434 323.5h1M435 322.5h1M436 321.5h1M439 317.5h1M440 316.5h1M441 315.5h1M445 311.5h1M445 310.5h1M446 309.5h1M450 305.5h2M452 304.5h1M456 303.5h1M457 302.5h2M462 298.5h1M463 297.5h2M468 293.5h1M469 292.5h1M470 291.5h1M473 287.5h1M474 286.5h1M475 285.5h1M478 281.5h1M479 280.5h1M479 279.5h1M483 275.5h1M484 274.5h1M485 273.5h1M489 269.5h2M491 268.5h1M495 264.5h1M496 263.5h1M497 262.5h1M501 258.5h1M501 257.5h1M502 256.5h1M506 252.5h1M507 251.5h1M508 250.5h1M511 246.5h1M512 245.5h1M513 244.5h1M517 240.5h1M518 239.5h1M518 238.5h1M522 234.5h1M523 233.5h1M524 232.5h1M527 228.5h1M528 227.5h1M529 226.5h1M532 222.5h1M532 221.5h1M533 220.5h1M536 216.5h1M537 215.5h1M537 214.5h1M539 210.5h1M540 209.5h1M540 208.5h1M543 204.5h1M543 203.5h1M544 202.5h1M546 198.5h1M546 197.5h1M547 196.5h1M549 192.5h1M550 191.5h1M550 190.5h1M552 186.5h1M553 185.5h1M553 184.5h1M555 180.5h1M556 179.5h1M556 178.5h1M559 174.5h1M560 173.5h1M560 172.5h1M563 168.5h1M563 167.5h1M564 166.5h1M566 162.5h1M567 161.5h1M568 160.5h1M572 157.5h1M573 156.5h2M578 154.5h2M580 153.5h1M584 152.5h1M585 151.5h2M590 150.5h1M591 151.5h2M596 152.5h2M598 153.5h1M602 153.5h3M608 154.5h3M614 153.5h3M620 152.5h2M622 151.5h1M626 150.5h3M632 151.5h1M633 152.5h2M638 153.5h1M639 154.5h2M644 156.5h1M645 157.5h2M650 159.5h1M651 160.5h2M656 162.5h3M662 164.5h3M668 166.5h3M674 165.5h3M680 165.5h1M681 164.5h2M686 163.5h3M692 161.5h2M694 160.5h1M698 158.5h2M700 157.5h1M704 154.5h1M705 153.5h2M710 150.5h3M716 150.5h2M718 151.5h1M722 151.5h3M728 151.5h3M734 151.5h3M740 150.5h1M741 149.5h2M746 147.5h1M747 146.5h1M748 145.5h1M752 141.5h2M754 140.5h1M758 136.5h1M759 135.5h2M764 132.5h1M765 131.5h1M766 130.5h1M770 128.5h2M772 127.5h1M776 125.5h1M777 124.5h2M782 124.5h3M788 126.5h2M790 127.5h1M794 129.5h3M800 130.5h1M801 131.5h2M806 132.5h3M812 131.5h3M818 131.5h3M824 130.5h3M830 130.5h3M836 129.5h3M842 128.5h3M848 130.5h1M849 131.5h2M854 134.5h1M855 135.5h1M856 136.5h1M859 140.5h1M860 141.5h1M861 142.5h1M864 146.5h1M865 147.5h1M865 148.5h1M868 152.5h1M869 153.5h1M869 154.5h1M871 158.5h1M872 159.5h1M872 160.5h1M874 164.5h1M875 165.5h1M875 166.5h1M877 170.5h1M878 171.5h1M878 172.5h1M880 176.5h1M881 177.5h1M881 178.5h1M883 182.5h1M884 183.5h1M884 184.5h1M886 188.5h1M887 189.5h1M888 190.5h1M890 194.5h1M891 195.5h1" stroke="#000" stroke-width="1" fill="none"/>
<g>
<rect x="3" y="204" width="1" height="98" fill="#000"/>
<rect x="2" y="210" width="3" height="89" fill="#000"/>
<rect x="3" y="211" width="1" height="87" fill="#fff"/>
<rect x="8" y="205" width="1" height="52" fill="#000"/>
<rect x="7" y="208" width="3" height="47" fill="#000"/>
<rect x="8" y="209" width="1" height="45" fill="#ff0000"/>
<rect x="14" y="205" width="1" height="55" fill="#000"/>
<rect x="13" y="205" width="3" height="47" fill="#000"/>
<rect x="14" y="206" width="1" height="45" fill="#fff"/>
<rect x="19" y="163" width="1" height="41" fill="#000"/>
<rect x="18" y="174" width="3" height="30" fill="#000"/>
<rect x="19" y="175" width="1" height="28" fill="#fff"/>
<rect x="24" y="144" width="1" height="129" fill="#000"/>
<rect x="23" y="152" width="3" height="104" fill="#000"/>
<rect x="24" y="153" width="1" height="102" fill="#ff0000"/>
<rect x="30" y="254" width="1" height="28" fill="#000"/>
<rect x="29" y="258" width="3" height="14" fill="#000"/>
<rect x="30" y="259" width="1" height="12" fill="#ff0000"/>
<rect x="35" y="265" width="1" height="11" fill="#000"/>
<rect x="34" y="266" width="3" height="6" fill="#000"/>
<rect x="35" y="267" width="1" height="4" fill="#fff"/>
<rect x="41" y="258" width="1" height="12" fill="#000"/>
<rect x="40" y="259" width="3" height="7" fill="#000"/>
<rect x="41" y="260" width="1" height="5" fill="#fff"/>
<rect x="46" y="250" width="1" height="15" fill="#000"/>
<rect x="45" y="257" width="3" height="3" fill="#000"/>
<rect x="46" y="258" width="1" height="1" fill="#ff0000"/>
<rect x="51" y="257" width="1" height="8" fill="#000"/>
<rect x="50" y="259" width="3" height="2" fill="#000"/>
<rect x="57" y="240" width="1" height="20" fill="#000"/>
<rect x="56" y="240" width="3" height="20" fill="#000"/>
<rect x="57" y="241" width="1" height="18" fill="#fff"/>
<rect x="62" y="217" width="1" height="32" fill="#000"/>
<rect x="61" y="217" width="3" height="20" fill="#000"/>
<rect x="62" y="218" width="1" height="18" fill="#fff"/>
<rect x="68" y="216" width="1" height="17" fill="#000"/>
<rect x="67" y="219" width="3" height="3" fill="#000"/>
<rect x="68" y="220" width="1" height="1" fill="#ff0000"/>
<rect x="73" y="302" width="1" height="55" fill="#000"/>
<rect x="72" y="302" width="3" height="37" fill="#000"/>
<rect x="73" y="303" width="1" height="35" fill="#ff0000"/>
<rect x="78" y="312" width="1" height="36" fill="#000"/>
<rect x="77" y="324" width="3" height="17" fill="#000"/>
<rect x="78" y="325" width="1" height="15" fill="#fff"/>
<rect x="84" y="316" width="1" height="26" fill="#000"/>
<rect x="83" y="321" width="3" height="5" fill="#000"/>
<rect x="84" y="322" width="1" height="3" fill="#ff0000"/>
<rect x="89" y="325" width="1" height="19" fill="#000"/>
<rect x="88" y="331" width="3" height="3" fill="#000"/>
<rect x="89" y="332" width="1" height="1" fill="#ff0000"/>
<rect x="95" y="318" width="1" height="24" fill="#000"/>
<rect x="94" y="323" width="3" height="15" fill="#000"/>
<rect x="95" y="324" width="1" height="13" fill="#fff"/>
<rect x="100" y="265" width="1" height="63" fill="#000"/>
<rect x="99" y="265" width="3" height="57" fill="#000"/>
<rect x="100" y="266" width="1" height="55" fill="#fff"/>
<rect x="105" y="264" width="1" height="35" fill="#000"/>
<rect x="104" y="264" width="3" height="30" fill="#000"/>
<rect x="105" y="265" width="1" height="28" fill="#ff0000"/>
<rect x="111" y="267" width="1" height="28" fill="#000"/>
<rect x="110" y="276" width="3" height="15" fill="#000"/>
<rect x="111" y="277" width="1" height="13" fill="#fff"/>
<rect x="116" y="279" width="1" height="26" fill="#000"/>
<rect x="115" y="279" width="3" height="18" fill="#000"/>
<rect x="116" y="280" width="1" height="16" fill="#ff0000"/>
<rect x="121" y="210" width="1" height="133" fill="#000"/>
<rect x="120" y="210" width="3" height="131" fill="#000"/>
<rect x="121" y="211" width="1" height="129" fill="#ff0000"/>
<rect x="127" y="270" width="1" height="69" fill="#000"/>
<rect x="126" y="284" width="3" height="55" fill="#000"/>
<rect x="127" y="285" width="1" height="53" fill="#fff"/>
<rect x="132" y="277" width="1" height="14" fill="#000"/>
<rect x="131" y="277" width="3" height="8" fill="#000"/>
<rect x="132" y="278" width="1" height="6" fill="#fff"/>
<rect x="138" y="274" width="1" height="10" fill="#000"/>
<rect x="137" y="275" width="3" height="3" fill="#000"/>
<rect x="138" y="276" width="1" height="1" fill="#fff"/>
<rect x="143" y="274" width="1" height="10" fill="#000"/>
<rect x="142" y="278" width="3" height="3" fill="#000"/>
<rect x="143" y="279" width="1" height="1" fill="#ff0000"/>
<rect x="148" y="255" width="1" height="27" fill="#000"/>
<rect x="147" y="258" width="3" height="24" fill="#000"/>
<rect x="148" y="259" width="1" height="22" fill="#fff"/>
<rect x="154" y="251" width="1" height="42" fill="#000"/>
<rect x="153" y="256" width="3" height="37" fill="#000"/>
<rect x="154" y="257" width="1" height="35" fill="#ff0000"/>
<rect x="159" y="286" width="1" height="34" fill="#000"/>
<rect x="158" y="290" width="3" height="24" fill="#000"/>
<rect x="159" y="291" width="1" height="22" fill="#ff0000"/>
<rect x="165" y="309" width="1" height="11" fill="#000"/>
<rect x="164" y="316" width="3" height="4" fill="#000"/>
<rect x="165" y="317" width="1" height="2" fill="#ff0000"/>
<rect x="170" y="262" width="1" height="26" fill="#000"/>
<rect x="169" y="275" width="3" height="3" fill="#000"/>
<rect x="170" y="276" width="1" height="1" fill="#ff0000"/>
<rect x="175" y="279" width="1" height="73" fill="#000"/>
<rect x="174" y="282" width="3" height="70" fill="#000"/>
<rect x="175" y="283" width="1" height="68" fill="#ff0000"/>
<rect x="181" y="350" width="1" height="31" fill="#000"/>
<rect x="180" y="355" width="3" height="26" fill="#000"/>
<rect x="181" y="356" width="1" height="24" fill="#ff0000"/>
<rect x="186" y="375" width="1" height="31" fill="#000"/>
<rect x="185" y="380" width="3" height="24" fill="#000"/>
<rect x="186" y="381" width="1" height="22" fill="#ff0000"/>
<rect x="192" y="371" width="1" height="32" fill="#000"/>
<rect x="191" y="373" width="3" height="30" fill="#000"/>
<rect x="192" y="374" width="1" height="28" fill="#fff"/>
<rect x="197" y="337" width="1" height="37" fill="#000"/>
<rect x="196" y="342" width="3" height="32" fill="#000"/>
<rect x="197" y="343" width="1" height="30" fill="#fff"/>
<rect x="202" y="338" width="1" height="14" fill="#000"/>
<rect x="201" y="346" width="3" height="2" fill="#000"/>
<rect x="208" y="342" width="1" height="12" fill="#000"/>
<rect x="207" y="343" width="3" height="7" fill="#000"/>
<rect x="208" y="344" width="1" height="5" fill="#ff0000"/>
<rect x="213" y="341" width="1" height="23" fill="#000"/>
<rect x="212" y="343" width="3" height="5" fill="#000"/>
<rect x="213" y="344" width="1" height="3" fill="#fff"/>
<rect x="219" y="328" width="1" height="13" fill="#000"/>
<rect x="218" y="328" width="3" height="13" fill="#000"/>
<rect x="219" y="329" width="1" height="11" fill="#fff"/>
<rect x="224" y="322" width="1" height="12" fill="#000"/>
<rect x="223" y="327" width="3" height="5" fill="#000"/>
<rect x="224" y="328" width="1" height="3" fill="#ff0000"/>
<rect x="229" y="324" width="1" height="10" fill="#000"/>
<rect x="228" y="329" width="3" height="3" fill="#000"/>
<rect x="229" y="330" width="1" height="1" fill="#ff0000"/>
<rect x="235" y="309" width="1" height="24" fill="#000"/>
<rect x="234" y="311" width="3" height="22" fill="#000"/>
<rect x="235" y="312" width="1" height="20" fill="#fff"/>
<rect x="240" y="312" width="1" height="17" fill="#000"/>
<rect x="239" y="312" width="3" height="14" fill="#000"/>
<rect x="240" y="313" width="1" height="12" fill="#ff0000"/>
<rect x="245" y="316" width="1" height="14" fill="#000"/>
<rect x="244" y="319" width="3" height="6" fill="#000"/>
<rect x="245" y="320" width="1" height="4" fill="#fff"/>
<rect x="251" y="318" width="1" height="15" fill="#000"/>
<rect x="250" y="318" width="3" height="15" fill="#000"/>
<rect x="251" y="319" width="1" height="13" fill="#ff0000"/>
<rect x="256" y="334" width="1" height="26" fill="#000"/>
<rect x="255" y="341" width="3" height="9" fill="#000"/>
<rect x="256" y="342" width="1" height="7" fill="#fff"/>
<rect x="262" y="337" width="1" height="31" fill="#000"/>
<rect x="261" y="339" width="3" height="29" fill="#000"/>
<rect x="262" y="340" width="1" height="27" fill="#ff0000"/>
<rect x="267" y="338" width="1" height="50" fill="#000"/>
<rect x="266" y="338" width="3" height="39" fill="#000"/>
<rect x="267" y="339" width="1" height="37" fill="#ff0000"/>
<rect x="272" y="382" width="1" height="28" fill="#000"/>
<rect x="271" y="384" width="3" height="20" fill="#000"/>
<rect x="272" y="385" width="1" height="18" fill="#ff0000"/>
<rect x="278" y="389" width="1" height="16" fill="#000"/>
<rect x="277" y="393" width="3" height="10" fill="#000"/>
<rect x="278" y="394" width="1" height="8" fill="#fff"/>
<rect x="283" y="391" width="1" height="19" fill="#000"/>
<rect x="282" y="404" width="3" height="3" fill="#000"/>
<rect x="283" y="405" width="1" height="1" fill="#ff0000"/>
<rect x="289" y="397" width="1" height="26" fill="#000"/>
<rect x="288" y="403" width="3" height="4" fill="#000"/>
<rect x="289" y="404" width="1" height="2" fill="#fff"/>
<rect x="294" y="387" width="1" height="19" fill="#000"/>
<rect x="293" y="393" width="3" height="13" fill="#000"/>
<rect x="294" y="394" width="1" height="11" fill="#fff"/>
<rect x="299" y="378" width="1" height="18" fill="#000"/>
<rect x="298" y="389" width="3" height="3" fill="#000"/>
<rect x="299" y="390" width="1" height="1" fill="#fff"/>
<rect x="305" y="333" width="1" height="52" fill="#000"/>
<rect x="304" y="335" width="3" height="50" fill="#000"/>
<rect x="305" y="336" width="1" height="48" fill="#fff"/>
<rect x="310" y="298" width="1" height="40" fill="#000"/>
<rect x="309" y="298" width="3" height="40" fill="#000"/>
<rect x="310" y="299" width="1" height="38" fill="#fff"/>
<rect x="316" y="249" width="1" height="147" fill="#000"/>
<rect x="315" y="249" width="3" height="139" fill="#000"/>
<rect x="316" y="250" width="1" height="137" fill="#ff0000"/>
<rect x="321" y="392" width="1" height="40" fill="#000"/>
<rect x="320" y="392" width="3" height="40" fill="#000"/>
<rect x="321" y="393" width="1" height="38" fill="#ff0000"/>
<rect x="326" y="431" width="1" height="42" fill="#000"/>
<rect x="325" y="431" width="3" height="27" fill="#000"/>
<rect x="326" y="432" width="1" height="25" fill="#ff0000"/>
<rect x="332" y="451" width="1" height="15" fill="#000"/>
<rect x="331" y="451" width="3" height="9" fill="#000"/>
<rect x="332" y="452" width="1" height="7" fill="#fff"/>
<rect x="337" y="414" width="1" height="62" fill="#000"/>
<rect x="336" y="419" width="3" height="20" fill="#000"/>
<rect x="337" y="420" width="1" height="18" fill="#fff"/>
<rect x="343" y="403" width="1" height="25" fill="#000"/>
<rect x="342" y="416" width="3" height="7" fill="#000"/>
<rect x="343" y="417" width="1" height="5" fill="#ff0000"/>
<rect x="348" y="370" width="1" height="61" fill="#000"/>
<rect x="347" y="370" width="3" height="54" fill="#000"/>
<rect x="348" y="371" width="1" height="52" fill="#fff"/>
<rect x="353" y="312" width="1" height="79" fill="#000"/>
<rect x="352" y="320" width="3" height="65" fill="#000"/>
<rect x="353" y="321" width="1" height="63" fill="#fff"/>
<rect x="359" y="284" width="1" height="34" fill="#000"/>
<rect x="358" y="299" width="3" height="19" fill="#000"/>
<rect x="359" y="300" width="1" height="17" fill="#fff"/>
<rect x="364" y="253" width="1" height="50" fill="#000"/>
<rect x="363" y="255" width="3" height="44" fill="#000"/>
<rect x="364" y="256" width="1" height="42" fill="#ff0000"/>
<rect x="369" y="276" width="1" height="27" fill="#000"/>
<rect x="368" y="293" width="3" height="5" fill="#000"/>
<rect x="369" y="294" width="1" height="3" fill="#fff"/>
<rect x="375" y="277" width="1" height="18" fill="#000"/>
<rect x="374" y="284" width="3" height="6" fill="#000"/>
<rect x="375" y="285" width="1" height="4" fill="#fff"/>
<rect x="380" y="280" width="1" height="25" fill="#000"/>
<rect x="379" y="288" width="3" height="15" fill="#000"/>
<rect x="380" y="289" width="1" height="13" fill="#ff0000"/>
<rect x="386" y="300" width="1" height="9" fill="#000"/>
<rect x="385" y="301" width="3" height="3" fill="#000"/>
<rect x="386" y="302" width="1" height="1" fill="#ff0000"/>
<rect x="391" y="269" width="1" height="43" fill="#000"/>
<rect x="390" y="283" width="3" height="21" fill="#000"/>
<rect x="391" y="284" width="1" height="19" fill="#fff"/>
<rect x="396" y="251" width="1" height="40" fill="#000"/>
<rect x="395" y="274" width="3" height="11" fill="#000"/>
<rect x="396" y="275" width="1" height="9" fill="#fff"/>
<rect x="402" y="266" width="1" height="53" fill="#000"/>
<rect x="401" y="270" width="3" height="30" fill="#000"/>
<rect x="402" y="271" width="1" height="28" fill="#ff0000"/>
<rect x="407" y="300" width="1" height="9" fill="#000"/>
<rect x="406" y="302" width="3" height="3" fill="#000"/>
<rect x="407" y="303" width="1" height="1" fill="#ff0000"/>
<rect x="413" y="255" width="1" height="68" fill="#000"/>
<rect x="412" y="255" width="3" height="58" fill="#000"/>
<rect x="413" y="256" width="1" height="56" fill="#ff0000"/>
<rect x="418" y="311" width="1" height="21" fill="#000"/>
<rect x="417" y="315" width="3" height="6" fill="#000"/>
<rect x="418" y="316" width="1" height="4" fill="#ff0000"/>
<rect x="423" y="315" width="1" height="13" fill="#000"/>
<rect x="422" y="315" width="3" height="5" fill="#000"/>
<rect x="423" y="316" width="1" height="3" fill="#fff"/>
<rect x="429" y="308" width="1" height="17" fill="#000"/>
<rect x="428" y="310" width="3" height="2" fill="#000"/>
<rect x="434" y="308" width="1" height="16" fill="#000"/>
<rect x="433" y="310" width="3" height="8" fill="#000"/>
<rect x="434" y="311" width="1" height="6" fill="#ff0000"/>
<rect x="440" y="312" width="1" height="12" fill="#000"/>
<rect x="439" y="312" width="3" height="8" fill="#000"/>
<rect x="440" y="313" width="1" height="6" fill="#fff"/>
<rect x="445" y="284" width="1" height="28" fill="#000"/>
<rect x="444" y="292" width="3" height="20" fill="#000"/>
<rect x="445" y="293" width="1" height="18" fill="#fff"/>
<rect x="450" y="288" width="1" height="11" fill="#000"/>
<rect x="449" y="290" width="3" height="3" fill="#000"/>
<rect x="450" y="291" width="1" height="1" fill="#ff0000"/>
<rect x="456" y="291" width="1" height="22" fill="#000"/>
<rect x="455" y="291" width="3" height="22" fill="#000"/>
<rect x="456" y="292" width="1" height="20" fill="#ff0000"/>
<rect x="461" y="213" width="1" height="114" fill="#000"/>
<rect x="460" y="228" width="3" height="93" fill="#000"/>
<rect x="461" y="229" width="1" height="91" fill="#fff"/>
<rect x="467" y="210" width="1" height="26" fill="#000"/>
<rect x="466" y="230" width="3" height="6" fill="#000"/>
<rect x="467" y="231" width="1" height="4" fill="#fff"/>
<rect x="472" y="212" width="1" height="28" fill="#000"/>
<rect x="471" y="218" width="3" height="9" fill="#000"/>
<rect x="472" y="219" width="1" height="7" fill="#fff"/>
<rect x="477" y="211" width="1" height="15" fill="#000"/>
<rect x="476" y="211" width="3" height="6" fill="#000"/>
<rect x="477" y="212" width="1" height="4" fill="#fff"/>
<rect x="483" y="158" width="1" height="60" fill="#000"/>
<rect x="482" y="163" width="3" height="49" fill="#000"/>
<rect x="483" y="164" width="1" height="47" fill="#fff"/>
<rect x="488" y="137" width="1" height="38" fill="#000"/>
<rect x="487" y="156" width="3" height="14" fill="#000"/>
<rect x="488" y="157" width="1" height="12" fill="#ff0000"/>
<rect x="493" y="162" width="1" height="27" fill="#000"/>
<rect x="492" y="171" width="3" height="4" fill="#000"/>
<rect x="493" y="172" width="1" height="2" fill="#ff0000"/>
<rect x="499" y="162" width="1" height="19" fill="#000"/>
<rect x="498" y="167" width="3" height="7" fill="#000"/>
<rect x="499" y="168" width="1" height="5" fill="#ff0000"/>
<rect x="504" y="152" width="1" height="21" fill="#000"/>
<rect x="503" y="158" width="3" height="15" fill="#000"/>
<rect x="504" y="159" width="1" height="13" fill="#fff"/>
<rect x="510" y="158" width="1" height="30" fill="#000"/>
<rect x="509" y="158" width="3" height="14" fill="#000"/>
<rect x="510" y="159" width="1" height="12" fill="#ff0000"/>
<rect x="515" y="161" width="1" height="22" fill="#000"/>
<rect x="514" y="172" width="3" height="7" fill="#000"/>
<rect x="515" y="173" width="1" height="5" fill="#ff0000"/>
<rect x="520" y="180" width="1" height="31" fill="#000"/>
<rect x="519" y="183" width="3" height="22" fill="#000"/>
<rect x="520" y="184" width="1" height="20" fill="#ff0000"/>
<rect x="526" y="154" width="1" height="50" fill="#000"/>
<rect x="525" y="160" width="3" height="44" fill="#000"/>
<rect x="526" y="161" width="1" height="42" fill="#fff"/>
<rect x="531" y="153" width="1" height="11" fill="#000"/>
<rect x="530" y="155" width="3" height="3" fill="#000"/>
<rect x="531" y="156" width="1" height="1" fill="#fff"/>
<rect x="537" y="120" width="1" height="38" fill="#000"/>
<rect x="536" y="122" width="3" height="34" fill="#000"/>
<rect x="537" y="123" width="1" height="32" fill="#fff"/>
<rect x="542" y="110" width="1" height="33" fill="#000"/>
<rect x="541" y="124" width="3" height="16" fill="#000"/>
<rect x="542" y="125" width="1" height="14" fill="#ff0000"/>
<rect x="547" y="132" width="1" height="30" fill="#000"/>
<rect x="546" y="132" width="3" height="11" fill="#000"/>
<rect x="547" y="133" width="1" height="9" fill="#fff"/>
<rect x="553" y="129" width="1" height="23" fill="#000"/>
<rect x="552" y="134" width="3" height="12" fill="#000"/>
<rect x="553" y="135" width="1" height="10" fill="#ff0000"/>
<rect x="558" y="57" width="1" height="33" fill="#000"/>
<rect x="557" y="64" width="3" height="16" fill="#000"/>
<rect x="558" y="65" width="1" height="14" fill="#fff"/>
<rect x="564" y="57" width="1" height="52" fill="#000"/>
<rect x="563" y="65" width="3" height="44" fill="#000"/>
<rect x="564" y="66" width="1" height="42" fill="#ff0000"/>
<rect x="569" y="98" width="1" height="42" fill="#000"/>
<rect x="568" y="110" width="3" height="24" fill="#000"/>
<rect x="569" y="111" width="1" height="22" fill="#ff0000"/>
<rect x="574" y="134" width="1" height="23" fill="#000"/>
<rect x="573" y="137" width="3" height="15" fill="#000"/>
<rect x="574" y="138" width="1" height="13" fill="#ff0000"/>
<rect x="580" y="137" width="1" height="21" fill="#000"/>
<rect x="579" y="142" width="3" height="11" fill="#000"/>
<rect x="580" y="143" width="1" height="9" fill="#fff"/>
<rect x="585" y="134" width="1" height="20" fill="#000"/>
<rect x="584" y="141" width="3" height="13" fill="#000"/>
<rect x="585" y="142" width="1" height="11" fill="#ff0000"/>
<rect x="591" y="156" width="1" height="42" fill="#000"/>
<rect x="590" y="156" width="3" height="21" fill="#000"/>
<rect x="591" y="157" width="1" height="19" fill="#ff0000"/>
<rect x="596" y="176" width="1" height="29" fill="#000"/>
<rect x="595" y="178" width="3" height="24" fill="#000"/>
<rect x="596" y="179" width="1" height="22" fill="#ff0000"/>
<rect x="601" y="206" width="1" height="29" fill="#000"/>
<rect x="600" y="206" width="3" height="29" fill="#000"/>
<rect x="601" y="207" width="1" height="27" fill="#ff0000"/>
<rect x="607" y="153" width="1" height="28" fill="#000"/>
<rect x="606" y="154" width="3" height="20" fill="#000"/>
<rect x="607" y="155" width="1" height="18" fill="#fff"/>
<rect x="612" y="154" width="1" height="15" fill="#000"/>
<rect x="611" y="154" width="3" height="4" fill="#000"/>
<rect x="612" y="155" width="1" height="2" fill="#fff"/>
<rect x="617" y="110" width="1" height="42" fill="#000"/>
<rect x="616" y="118" width="3" height="34" fill="#000"/>
<rect x="617" y="119" width="1" height="32" fill="#fff"/>
<rect x="623" y="115" width="1" height="71" fill="#000"/>
<rect x="622" y="115" width="3" height="63" fill="#000"/>
<rect x="623" y="116" width="1" height="61" fill="#ff0000"/>
<rect x="628" y="172" width="1" height="40" fill="#000"/>
<rect x="627" y="176" width="3" height="19" fill="#000"/>
<rect x="628" y="177" width="1" height="17" fill="#ff0000"/>
<rect x="634" y="196" width="1" height="10" fill="#000"/>
<rect x="633" y="196" width="3" height="3" fill="#000"/>
<rect x="634" y="197" width="1" height="1" fill="#ff0000"/>
<rect x="639" y="200" width="1" height="22" fill="#000"/>
<rect x="638" y="200" width="3" height="4" fill="#000"/>
<rect x="639" y="201" width="1" height="2" fill="#ff0000"/>
<rect x="644" y="180" width="1" height="47" fill="#000"/>
<rect x="643" y="180" width="3" height="23" fill="#000"/>
<rect x="644" y="181" width="1" height="21" fill="#fff"/>
<rect x="650" y="176" width="1" height="22" fill="#000"/>
<rect x="649" y="179" width="3" height="19" fill="#000"/>
<rect x="650" y="180" width="1" height="17" fill="#ff0000"/>
<rect x="655" y="118" width="1" height="36" fill="#000"/>
<rect x="654" y="120" width="3" height="31" fill="#000"/>
<rect x="655" y="121" width="1" height="29" fill="#ff0000"/>
<rect x="661" y="133" width="1" height="40" fill="#000"/>
<rect x="660" y="135" width="3" height="17" fill="#000"/>
<rect x="661" y="136" width="1" height="15" fill="#fff"/>
<rect x="666" y="133" width="1" height="17" fill="#000"/>
<rect x="665" y="136" width="3" height="8" fill="#000"/>
<rect x="666" y="137" width="1" height="6" fill="#ff0000"/>
<rect x="671" y="133" width="1" height="23" fill="#000"/>
<rect x="670" y="142" width="3" height="3" fill="#000"/>
<rect x="671" y="143" width="1" height="1" fill="#ff0000"/>
<rect x="677" y="116" width="1" height="24" fill="#000"/>
<rect x="676" y="120" width="3" height="20" fill="#000"/>
<rect x="677" y="121" width="1" height="18" fill="#fff"/>
<rect x="682" y="118" width="1" height="23" fill="#000"/>
<rect x="681" y="119" width="3" height="11" fill="#000"/>
<rect x="682" y="120" width="1" height="9" fill="#ff0000"/>
<rect x="688" y="112" width="1" height="21" fill="#000"/>
<rect x="687" y="112" width="3" height="16" fill="#000"/>
<rect x="688" y="113" width="1" height="14" fill="#fff"/>
<rect x="693" y="93" width="1" height="21" fill="#000"/>
<rect x="692" y="107" width="3" height="7" fill="#000"/>
<rect x="693" y="108" width="1" height="5" fill="#fff"/>
<rect x="698" y="101" width="1" height="17" fill="#000"/>
<rect x="697" y="106" width="3" height="2" fill="#000"/>
<rect x="704" y="124" width="1" height="50" fill="#000"/>
<rect x="703" y="128" width="3" height="30" fill="#000"/>
<rect x="704" y="129" width="1" height="28" fill="#ff0000"/>
<rect x="709" y="127" width="1" height="38" fill="#000"/>
<rect x="708" y="133" width="3" height="27" fill="#000"/>
<rect x="709" y="134" width="1" height="25" fill="#fff"/>
<rect x="715" y="133" width="1" height="18" fill="#000"/>
<rect x="714" y="135" width="3" height="10" fill="#000"/>
<rect x="715" y="136" width="1" height="8" fill="#ff0000"/>
<rect x="720" y="146" width="1" height="21" fill="#000"/>
<rect x="719" y="148" width="3" height="17" fill="#000"/>
<rect x="720" y="149" width="1" height="15" fill="#ff0000"/>
<rect x="725" y="151" width="1" height="28" fill="#000"/>
<rect x="724" y="157" width="3" height="8" fill="#000"/>
<rect x="725" y="158" width="1" height="6" fill="#fff"/>
<rect x="731" y="145" width="1" height="31" fill="#000"/>
<rect x="730" y="156" width="3" height="20" fill="#000"/>
<rect x="731" y="157" width="1" height="18" fill="#ff0000"/>
<rect x="736" y="177" width="1" height="19" fill="#000"/>
<rect x="735" y="177" width="3" height="3" fill="#000"/>
<rect x="736" y="178" width="1" height="1" fill="#ff0000"/>
<rect x="741" y="164" width="1" height="21" fill="#000"/>
<rect x="740" y="168" width="3" height="17" fill="#000"/>
<rect x="741" y="169" width="1" height="15" fill="#fff"/>
<rect x="747" y="154" width="1" height="11" fill="#000"/>
<rect x="746" y="158" width="3" height="7" fill="#000"/>
<rect x="747" y="159" width="1" height="5" fill="#fff"/>
<rect x="752" y="83" width="1" height="29" fill="#000"/>
<rect x="751" y="87" width="3" height="11" fill="#000"/>
<rect x="752" y="88" width="1" height="9" fill="#fff"/>
<rect x="758" y="68" width="1" height="28" fill="#000"/>
<rect x="757" y="71" width="3" height="18" fill="#000"/>
<rect x="758" y="72" width="1" height="16" fill="#fff"/>
<rect x="763" y="62" width="1" height="17" fill="#000"/>
<rect x="762" y="66" width="3" height="7" fill="#000"/>
<rect x="763" y="67" width="1" height="5" fill="#fff"/>
<rect x="768" y="58" width="1" height="30" fill="#000"/>
<rect x="767" y="73" width="3" height="9" fill="#000"/>
<rect x="768" y="74" width="1" height="7" fill="#ff0000"/>
<rect x="774" y="84" width="1" height="22" fill="#000"/>
<rect x="773" y="84" width="3" height="2" fill="#000"/>
<rect x="779" y="64" width="1" height="30" fill="#000"/>
<rect x="778" y="72" width="3" height="11" fill="#000"/>
<rect x="779" y="73" width="1" height="9" fill="#fff"/>
<rect x="785" y="70" width="1" height="54" fill="#000"/>
<rect x="784" y="70" width="3" height="54" fill="#000"/>
<rect x="785" y="71" width="1" height="52" fill="#ff0000"/>
<rect x="790" y="118" width="1" height="63" fill="#000"/>
<rect x="789" y="122" width="3" height="32" fill="#000"/>
<rect x="790" y="123" width="1" height="30" fill="#ff0000"/>
<rect x="795" y="155" width="1" height="25" fill="#000"/>
<rect x="794" y="158" width="3" height="15" fill="#000"/>
<rect x="795" y="159" width="1" height="13" fill="#ff0000"/>
<rect x="801" y="137" width="1" height="31" fill="#000"/>
<rect x="800" y="150" width="3" height="7" fill="#000"/>
<rect x="801" y="151" width="1" height="5" fill="#fff"/>
<rect x="806" y="145" width="1" height="13" fill="#000"/>
<rect x="805" y="148" width="3" height="7" fill="#000"/>
<rect x="806" y="149" width="1" height="5" fill="#ff0000"/>
<rect x="812" y="133" width="1" height="26" fill="#000"/>
<rect x="811" y="149" width="3" height="10" fill="#000"/>
<rect x="812" y="150" width="1" height="8" fill="#fff"/>
<rect x="817" y="108" width="1" height="37" fill="#000"/>
<rect x="816" y="117" width="3" height="28" fill="#000"/>
<rect x="817" y="118" width="1" height="26" fill="#fff"/>
<rect x="822" y="108" width="1" height="19" fill="#000"/>
<rect x="821" y="112" width="3" height="4" fill="#000"/>
<rect x="822" y="113" width="1" height="2" fill="#fff"/>
<rect x="828" y="111" width="1" height="59" fill="#000"/>
<rect x="827" y="113" width="3" height="52" fill="#000"/>
<rect x="828" y="114" width="1" height="50" fill="#ff0000"/>
<rect x="833" y="161" width="1" height="15" fill="#000"/>
<rect x="832" y="167" width="3" height="3" fill="#000"/>
<rect x="833" y="168" width="1" height="1" fill="#ff0000"/>
<rect x="839" y="143" width="1" height="39" fill="#000"/>
<rect x="838" y="155" width="3" height="16" fill="#000"/>
<rect x="839" y="156" width="1" height="14" fill="#fff"/>
<rect x="844" y="138" width="1" height="32" fill="#000"/>
<rect x="843" y="147" width="3" height="17" fill="#000"/>
<rect x="844" y="148" width="1" height="15" fill="#ff0000"/>
<rect x="849" y="156" width="1" height="45" fill="#000"/>
<rect x="848" y="156" width="3" height="45" fill="#000"/>
<rect x="849" y="157" width="1" height="43" fill="#ff0000"/>
<rect x="855" y="198" width="1" height="36" fill="#000"/>
<rect x="854" y="198" width="3" height="36" fill="#000"/>
<rect x="855" y="199" width="1" height="34" fill="#ff0000"/>
<rect x="860" y="218" width="1" height="24" fill="#000"/>
<rect x="859" y="226" width="3" height="9" fill="#000"/>
<rect x="860" y="227" width="1" height="7" fill="#fff"/>
<rect x="865" y="230" width="1" height="19" fill="#000"/>
<rect x="864" y="230" width="3" height="16" fill="#000"/>
<rect x="865" y="231" width="1" height="14" fill="#ff0000"/>
<rect x="871" y="248" width="1" height="30" fill="#000"/>
<rect x="870" y="251" width="3" height="27" fill="#000"/>
<rect x="871" y="252" width="1" height="25" fill="#ff0000"/>
<rect x="876" y="253" width="1" height="28" fill="#000"/>
<rect x="875" y="277" width="3" height="4" fill="#000"/>
<rect x="876" y="278" width="1" height="2" fill="#fff"/>
<rect x="882" y="278" width="1" height="56" fill="#000"/>
<rect x="881" y="278" width="3" height="31" fill="#000"/>
<rect x="882" y="279" width="1" height="29" fill="#ff0000"/>
<rect x="887" y="219" width="1" height="87" fill="#000"/>
<rect x="886" y="249" width="3" height="57" fill="#000"/>
<rect x="887" y="250" width="1" height="55" fill="#fff"/>
<rect x="892" y="239" width="1" height="16" fill="#000"/>
<rect x="891" y="244" width="3" height="4" fill="#000"/>
<rect x="892" y="245" width="1" height="2" fill="#fff"/>
</g>
<rect x="337" y="109" width="629" height="1" fill="#6464ff"/>
<rect x="337" y="329" width="629" height="1" fill="#6464ff"/>
<rect x="337" y="478" width="629" height="1" fill="#6464ff"/>
<g fill="#6464ff">
<text transform="translate(337 122) scale(0.822 1)">100.00% - 19.65</text>
<text transform="translate(337 342) scale(0.822 1)">38.20% - 17.57</text>
<text transform="translate(337 491) scale(0.822 1)">0.00% - 16.29</text>
</g>
<rect x="1" y="294" width="965" height="2" fill="#006400"/>
<rect x="1" y="447" width="965" height="3" fill="#006400"/>
<g fill="#006400"><text transform="translate(17 292) scale(0.822 1)">17.88</text><text transform="translate(17 445) scale(0.822 1)">16.55</text></g>
<polygon points="0,387.6 544,527.8 544,530.8 0,390.6" fill="#006400"/>
<polygon points="0,80.9 961,499.5 961,502.5 0,83.9" fill="#ff0000"/>
<rect x="390" y="235" width="567" height="4" fill="#ff00ff"/>
<rect x="558" y="55" width="403" height="2" fill="#ff0000"/>
<rect x="562" y="18" width="4" height="32" fill="#ff0000"/>
<rect x="783" y="20" width="4" height="33" fill="#ff0000"/>
<rect x="334.5" y="493.5" width="5" height="32" rx="1.5" fill="#00ff00"/>
<rect x="459" y="335.5" width="4.5" height="32" rx="1.5" fill="#00ff00"/>
<rect x="885.5" y="318" width="4" height="32" rx="1.5" fill="#00ff00"/>
<path d="M337 477.5h1M338 476.5h1M339 475.5h1M339 474.5h1M340 473.5h1M341 472.5h1M342 471.5h1M343 470.5h1M344 469.5h1M344 468.5h1M345 467.5h1M346 466.5h1M347 465.5h1M348 464.5h1M349 463.5h1M349 462.5h1M350 461.5h1M351 460.5h1M352 459.5h1M353 458.5h1M354 457.5h1M354 456.5h1M355 455.5h1M356 454.5h1M357 453.5h1M358 452.5h1M358 451.5h1M359 450.5h1M360 449.5h1M361 448.5h1M362 447.5h1M363 446.5h1M363 445.5h1M364 444.5h1M365 443.5h1M366 442.5h1M367 441.5h1M368 440.5h1M368 439.5h1M369 438.5h1M370 437.5h1M371 436.5h1M372 435.5h1M372 434.5h1M373 433.5h1M374 432.5h1M375 431.5h1M376 430.5h1M377 429.5h1M377 428.5h1M378 427.5h1M379 426.5h1M380 425.5h1M381 424.5h1M382 423.5h1M382 422.5h1M383 421.5h1M384 420.5h1M385 419.5h1M386 418.5h1M387 417.5h1M387 416.5h1M388 415.5h1M389 414.5h1M390 413.5h1M391 412.5h1M391 411.5h1M392 410.5h1M393 409.5h1M394 408.5h1M395 407.5h1M396 406.5h1M396 405.5h1M397 404.5h1M398 403.5h1M399 402.5h1M400 401.5h1M401 400.5h1M401 399.5h1M402 398.5h1M403 397.5h1M404 396.5h1M405 395.5h1M405 394.5h1M406 393.5h1M407 392.5h1M408 391.5h1M409 390.5h1M410 389.5h1M410 388.5h1M411 387.5h1M412 386.5h1M413 385.5h1M414 384.5h1M415 383.5h1M415 382.5h1M416 381.5h1M417 380.5h1M418 379.5h1M419 378.5h1M420 377.5h1M420 376.5h1M421 375.5h1M422 374.5h1M423 373.5h1M424 372.5h1M424 371.5h1M425 370.5h1M426 369.5h1M427 368.5h1M428 367.5h1M429 366.5h1M429 365.5h1M430 364.5h1M431 363.5h1M432 362.5h1M433 361.5h1M434 360.5h1M434 359.5h1M435 358.5h1M436 357.5h1M437 356.5h1M438 355.5h1M438 354.5h1M439 353.5h1M440 352.5h1M441 351.5h1M442 350.5h1M443 349.5h1M443 348.5h1M444 347.5h1M445 346.5h1M446 345.5h1M447 344.5h1M448 343.5h1M448 342.5h1M449 341.5h1M450 340.5h1M451 339.5h1M452 338.5h1M453 337.5h1M453 336.5h1M454 335.5h1M455 334.5h1M456 333.5h1M457 332.5h1M457 331.5h1M458 330.5h1M459 329.5h1M460 328.5h1M461 327.5h1M462 326.5h1M462 325.5h1M463 324.5h1M464 323.5h1M465 322.5h1M466 321.5h1M467 320.5h1M467 319.5h1M468 318.5h1M469 317.5h1M470 316.5h1M471 315.5h1M471 314.5h1M472 313.5h1M473 312.5h1M474 311.5h1M475 310.5h1M476 309.5h1M476 308.5h1M477 307.5h1M478 306.5h1M479 305.5h1M480 304.5h1M481 303.5h1M481 302.5h1M482 301.5h1M483 300.5h1M484 299.5h1M485 298.5h1M486 297.5h1M486 296.5h1M487 295.5h1M488 294.5h1M489 293.5h1M490 292.5h1M490 291.5h1M491 290.5h1M492 289.5h1M493 288.5h1M494 287.5h1M495 286.5h1M495 285.5h1M496 284.5h1M497 283.5h1M498 282.5h1M499 281.5h1M500 280.5h1M500 279.5h1M501 278.5h1M502 277.5h1M503 276.5h1M504 275.5h1M504 274.5h1M505 273.5h1M506 272.5h1M507 271.5h1M508 270.5h1M509 269.5h1M509 268.5h1M510 267.5h1M511 266.5h1M512 265.5h1M513 264.5h1M514 263.5h1M514 262.5h1M515 261.5h1M516 260.5h1M517 259.5h1M518 258.5h1M519 257.5h1M519 256.5h1M520 255.5h1M521 254.5h1M522 253.5h1M523 252.5h1M523 251.5h1M524 250.5h1M525 249.5h1M526 248.5h1M527 247.5h1M528 246.5h1M528 245.5h1M529 244.5h1M530 243.5h1M531 242.5h1M532 241.5h1M533 240.5h1M533 239.5h1M534 238.5h1M535 237.5h1M536 236.5h1M537 235.5h1M537 234.5h1M538 233.5h1M539 232.5h1M540 231.5h1M541 230.5h1M542 229.5h1M542 228.5h1M543 227.5h1M544 226.5h1M545 225.5h1M546 224.5h1M547 223.5h1M547 222.5h1M548 221.5h1M549 220.5h1M550 219.5h1M551 218.5h1M552 217.5h1M552 216.5h1M553 215.5h1M554 214.5h1M555 213.5h1M556 212.5h1M556 211.5h1M557 210.5h1M558 209.5h1M559 208.5h1M560 207.5h1M561 206.5h1M561 205.5h1M562 204.5h1M563 203.5h1M564 202.5h1M565 201.5h1M566 200.5h1M566 199.5h1M567 198.5h1M568 197.5h1M569 196.5h1M570 195.5h1M570 194.5h1M571 193.5h1M572 192.5h1M573 191.5h1M574 190.5h1M575 189.5h1M575 188.5h1M576 187.5h1M577 186.5h1M578 185.5h1M579 184.5h1M580 183.5h1M580 182.5h1M581 181.5h1M582 180.5h1M583 179.5h1M584 178.5h1M585 177.5h1M585 176.5h1M586 175.5h1M587 174.5h1M588 173.5h1M589 172.5h1M589 171.5h1M590 170.5h1M591 169.5h1M592 168.5h1M593 167.5h1M594 166.5h1M594 165.5h1M595 164.5h1M596 163.5h1M597 162.5h1M598 161.5h1M599 160.5h1M599 159.5h1M600 158.5h1M601 157.5h1M602 156.5h1M603 155.5h1M603 154.5h1M604 153.5h1M605 152.5h1M606 151.5h1M607 150.5h1M608 149.5h1M608 148.5h1M609 147.5h1M610 146.5h1M611 145.5h1M612 144.5h1M613 143.5h1M613 142.5h1M614 141.5h1M615 140.5h1M616 139.5h1M617 138.5h1M618 137.5h1M618 136.5h1M619 135.5h1M620 134.5h1M621 133.5h1M622 132.5h1M622 131.5h1M623 130.5h1M624 129.5h1M625 128.5h1M626 127.5h1M627 126.5h1M627 125.5h1M628 124.5h1M629 123.5h1M630 122.5h1M631 121.5h1M632 120.5h1M632 119.5h1M633 118.5h1M634 117.5h1M635 116.5h1M636 115.5h1M636 114.5h1M637 113.5h1M638 112.5h1M639 111.5h1M640 110.5h1M641 109.5h1M641 108.5h1M642 107.5h1M643 106.5h1M644 105.5h1M645 104.5h1M646 103.5h1M646 102.5h1M647 101.5h1M648 100.5h1M649 99.5h1M650 98.5h1M651 97.5h1M651 96.5h1M652 95.5h1M653 94.5h1M654 93.5h1M655 92.5h1M655 91.5h1M656 90.5h1M657 89.5h1M658 88.5h1M659 87.5h1M660 86.5h1M660 85.5h1M661 84.5h1M662 83.5h1M663 82.5h1M664 81.5h1M665 80.5h1M665 79.5h1M666 78.5h1M667 77.5h1" stroke="#006400" stroke-width="1" fill="none"/>
<path d="M369 303.5h2M371 304.5h2M373 305.5h2M375 306.5h2M377 307.5h2M379 308.5h3M382 309.5h2M384 310.5h2M386 311.5h2M388 312.5h3M391 313.5h2M393 314.5h2M395 315.5h2M397 316.5h2M399 317.5h3M402 318.5h2M404 319.5h2M406 320.5h2M408 321.5h2M410 322.5h3M413 323.5h2M415 324.5h2M417 325.5h2M419 326.5h3M422 327.5h2M424 328.5h2M426 329.5h2M428 330.5h2M430 331.5h3M433 332.5h2M435 333.5h2M437 334.5h2M439 335.5h3M442 336.5h2M444 337.5h2M446 338.5h2M448 339.5h2M450 340.5h2" stroke="#006400" stroke-width="1" fill="none"/>
<path d="M483 180.5h1M484 181.5h1M485 182.5h2M487 183.5h1M488 184.5h1M489 185.5h1M490 186.5h1M491 187.5h2M493 188.5h1M494 189.5h1M495 190.5h1M496 191.5h1M497 192.5h2M499 193.5h1M500 194.5h1M501 195.5h1M502 196.5h1M503 197.5h2M505 198.5h1M506 199.5h1M507 200.5h1M508 201.5h1M509 202.5h2M511 203.5h1M512 204.5h1M513 205.5h1M514 206.5h1M515 207.5h2M517 208.5h1M518 209.5h1M519 210.5h1M520 211.5h1M521 212.5h2M523 213.5h1M524 214.5h1M525 215.5h1M526 216.5h1M527 217.5h2M529 218.5h1M530 219.5h1M531 220.5h1M532 221.5h1M533 222.5h2M535 223.5h1M536 224.5h1M537 225.5h1M538 226.5h1M539 227.5h2M541 228.5h1M542 229.5h1" stroke="#006400" stroke-width="1" fill="none"/>
<path d="M601 235.5h2M603 234.5h4M607 233.5h3M610 232.5h4M614 231.5h3M617 230.5h4M621 229.5h3M624 228.5h4M628 227.5h3M631 226.5h4M635 225.5h4M639 224.5h3M642 223.5h4M646 222.5h3M649 221.5h4M653 220.5h3M656 219.5h4M660 218.5h3M663 217.5h4M667 216.5h3M670 215.5h4M674 214.5h3M677 213.5h4M681 212.5h3M684 211.5h4M688 210.5h3M691 209.5h4M695 208.5h3M698 207.5h4M702 206.5h4M706 205.5h3M709 204.5h4M713 203.5h3M716 202.5h4M720 201.5h3M723 200.5h4M727 199.5h3M730 198.5h4M734 197.5h3M737 196.5h4M741 195.5h3M744 194.5h4M748 193.5h3M751 192.5h4M755 191.5h3M758 190.5h4M762 189.5h3M765 188.5h4M769 187.5h3M772 186.5h4M776 185.5h4M780 184.5h3M783 183.5h4M787 182.5h3M790 181.5h4M794 180.5h3M797 179.5h4M801 178.5h3M804 177.5h4M808 176.5h3M811 175.5h4M815 174.5h3M818 173.5h4M822 172.5h3M825 171.5h4M829 170.5h3M832 169.5h4M836 168.5h3M839 167.5h4M843 166.5h4M847 165.5h3M850 164.5h4M854 163.5h3M857 162.5h4M861 161.5h3M864 160.5h4M868 159.5h3M871 158.5h4M875 157.5h2" stroke="#006400" stroke-width="1" fill="none"/>
<path d="M601 235.5h2M603 236.5h3M606 237.5h3M609 238.5h2M611 239.5h3M614 240.5h3M617 241.5h3M620 242.5h3M623 243.5h3M626 244.5h3M629 245.5h2M631 246.5h3M634 247.5h3M637 248.5h3M640 249.5h3M643 250.5h3M646 251.5h3M649 252.5h2M651 253.5h3M654 254.5h3M657 255.5h3M660 256.5h3M663 257.5h3M666 258.5h2M668 259.5h3M671 260.5h3M674 261.5h3M677 262.5h3M680 263.5h3M683 264.5h3M686 265.5h2M688 266.5h3M691 267.5h3M694 268.5h3M697 269.5h3M700 270.5h3M703 271.5h2M705 272.5h3M708 273.5h3M711 274.5h3M714 275.5h3M717 276.5h3M720 277.5h3M723 278.5h2M725 279.5h3M728 280.5h3M731 281.5h3M734 282.5h3M737 283.5h3M740 284.5h3M743 285.5h2M745 286.5h3M748 287.5h3M751 288.5h3M754 289.5h3M757 290.5h3M760 291.5h2M762 292.5h3M765 293.5h3M768 294.5h3M771 295.5h3M774 296.5h3M777 297.5h3M780 298.5h2M782 299.5h3M785 300.5h3M788 301.5h3M791 302.5h3M794 303.5h3M797 304.5h2M799 305.5h3M802 306.5h3M805 307.5h3M808 308.5h3M811 309.5h3M814 310.5h3M817 311.5h2M819 312.5h3M822 313.5h3M825 314.5h3M828 315.5h3M831 316.5h3M834 317.5h3M837 318.5h2M839 319.5h3M842 320.5h3M845 321.5h3M848 322.5h3M851 323.5h3M854 324.5h2M856 325.5h3M859 326.5h3M862 327.5h3M865 328.5h3M868 329.5h3M871 330.5h3M874 331.5h2M876 332.5h3M879 333.5h3M882 334.5h3M885 335.5h3M888 336.5h3M891 337.5h2M893 338.5h3M896 339.5h3M899 340.5h3M902 341.5h3M905 342.5h3M908 343.5h3M911 344.5h2M913 345.5h3M916 346.5h3M919 347.5h3M922 348.5h3M925 349.5h3M928 350.5h3M931 351.5h2M933 352.5h3M936 353.5h3M939 354.5h2" stroke="#006400" stroke-width="1" fill="none"/>
<path d="M697 170.5h1M698 171.5h2M700 172.5h1M701 173.5h2M703 174.5h1M704 175.5h2M706 176.5h1M707 177.5h2M709 178.5h1M710 179.5h2M712 180.5h2M714 181.5h1M715 182.5h2M717 183.5h1M718 184.5h2M720 185.5h1M721 186.5h2M723 187.5h1M724 188.5h2M726 189.5h1M727 190.5h2M729 191.5h1M730 192.5h2M732 193.5h1M733 194.5h2M735 195.5h1M736 196.5h2M738 197.5h1M739 198.5h2M741 199.5h1M742 200.5h2M744 201.5h2M746 202.5h1M747 203.5h2M749 204.5h1M750 205.5h2M752 206.5h1M753 207.5h2M755 208.5h1M756 209.5h2M758 210.5h1" stroke="#006400" stroke-width="1" fill="none"/>
<path d="M388 260.5h1M389 259.5h1M390 258.5h1M390 257.5h1M391 256.5h1M392 255.5h1M393 254.5h1M394 253.5h1M395 252.5h1M395 251.5h1M396 250.5h1M397 249.5h1M398 248.5h1M399 247.5h1M400 246.5h1M400 245.5h1M401 244.5h1M402 243.5h1M403 242.5h1M404 241.5h1M405 240.5h1M405 239.5h1M406 238.5h1M407 237.5h1M408 236.5h1M409 235.5h1M409 234.5h1M410 233.5h1M411 232.5h1M412 231.5h1M413 230.5h1M414 229.5h1M414 228.5h1M415 227.5h1M416 226.5h1M417 225.5h1M418 224.5h1M419 223.5h1M419 222.5h1M420 221.5h1M421 220.5h1M422 219.5h1M423 218.5h1M424 217.5h1M424 216.5h1M425 215.5h1M426 214.5h1M427 213.5h1M428 212.5h1M428 211.5h1M429 210.5h1M430 209.5h1M431 208.5h1M432 207.5h1M433 206.5h1M433 205.5h1M434 204.5h1M435 203.5h1M436 202.5h1M437 201.5h1M438 200.5h1M438 199.5h1M439 198.5h1M440 197.5h1M441 196.5h1M442 195.5h1M443 194.5h1M443 193.5h1M444 192.5h1M445 191.5h1M446 190.5h1M447 189.5h1M447 188.5h1M448 187.5h1M449 186.5h1M450 185.5h1M451 184.5h1M452 183.5h1M452 182.5h1M453 181.5h1M454 180.5h1M455 179.5h1M456 178.5h1M457 177.5h1M457 176.5h1M458 175.5h1M459 174.5h1M460 173.5h1M461 172.5h1M462 171.5h1M462 170.5h1M463 169.5h1M464 168.5h1M465 167.5h1M466 166.5h1M466 165.5h1M467 164.5h1M468 163.5h1M469 162.5h1M470 161.5h1M471 160.5h1M471 159.5h1M472 158.5h1M473 157.5h1M474 156.5h1M475 155.5h1M476 154.5h1M476 153.5h1M477 152.5h1M478 151.5h1M479 150.5h1M480 149.5h1M481 148.5h1M481 147.5h1M482 146.5h1M483 145.5h1M484 144.5h1M485 143.5h1M485 142.5h1M486 141.5h1M487 140.5h1M488 139.5h1M489 138.5h1M490 137.5h1M490 136.5h1M491 135.5h1M492 134.5h1M493 133.5h1M494 132.5h1M495 131.5h1M495 130.5h1M496 129.5h1M497 128.5h1M498 127.5h1M499 126.5h1M499 125.5h1M500 124.5h1M501 123.5h1M502 122.5h1M503 121.5h1M504 120.5h1M504 119.5h1M505 118.5h1M506 117.5h1M507 116.5h1M508 115.5h1M509 114.5h1M509 113.5h1M510 112.5h1M511 111.5h1M512 110.5h1M513 109.5h1M514 108.5h1M514 107.5h1M515 106.5h1M516 105.5h1M517 104.5h1M518 103.5h1M518 102.5h1M519 101.5h1M520 100.5h1M521 99.5h1M522 98.5h1M523 97.5h1M523 96.5h1M524 95.5h1M525 94.5h1M526 93.5h1M527 92.5h1M528 91.5h1M528 90.5h1M529 89.5h1M530 88.5h1M531 87.5h1M532 86.5h1M533 85.5h1M533 84.5h1M534 83.5h1M535 82.5h1M536 81.5h1M537 80.5h1M537 79.5h1M538 78.5h1M539 77.5h1M540 76.5h1M541 75.5h1M542 74.5h1M542 73.5h1M543 72.5h1M544 71.5h1M545 70.5h1M546 69.5h1M547 68.5h1M547 67.5h1M548 66.5h1M549 65.5h1M550 64.5h1M551 63.5h1M552 62.5h1M552 61.5h1M553 60.5h1M554 59.5h1M555 58.5h1M556 57.5h1M556 56.5h1M557 55.5h1M558 54.5h1M559 53.5h1M560 52.5h1M561 51.5h1M561 50.5h1M562 49.5h1M563 48.5h1M564 47.5h1M565 46.5h1M566 45.5h1M566 44.5h1M567 43.5h1M568 42.5h1M569 41.5h1M570 40.5h1M571 39.5h1M571 38.5h1M572 37.5h1M573 36.5h1M574 35.5h1M575 34.5h1M575 33.5h1M576 32.5h1M577 31.5h1M578 30.5h1M579 29.5h1M580 28.5h1M580 27.5h1M581 26.5h1M582 25.5h1M583 24.5h1M584 23.5h1M585 22.5h1M585 21.5h1M586 20.5h1M587 19.5h1M588 18.5h1M589 17.5h1M590 16.5h1M590 15.5h1M591 14.5h1M592 13.5h1" stroke="#ff0000" stroke-width="1" fill="none"/>
<path d="M488 139.5h1M489 140.5h1M490 141.5h2M492 142.5h1M493 143.5h1M494 144.5h1M495 145.5h2M497 146.5h1M498 147.5h1M499 148.5h1M500 149.5h2M502 150.5h1M503 151.5h1M504 152.5h1M505 153.5h2M507 154.5h1M508 155.5h1M509 156.5h1M510 157.5h2M512 158.5h1M513 159.5h1M514 160.5h1M515 161.5h2M517 162.5h1M518 163.5h1M519 164.5h1M520 165.5h2M522 166.5h1M523 167.5h1M524 168.5h1M525 169.5h2M527 170.5h1M528 171.5h1M529 172.5h1M530 173.5h2M532 174.5h1M533 175.5h1M534 176.5h1M535 177.5h2M537 178.5h1M538 179.5h1M539 180.5h1M540 181.5h2M542 182.5h1M543 183.5h1" stroke="#ff0000" stroke-width="1" fill="none"/>
<path d="M704 123.5h1M705 124.5h1M706 125.5h2M708 126.5h1M709 127.5h1M710 128.5h2M712 129.5h1M713 130.5h1M714 131.5h1M715 132.5h2M717 133.5h1M718 134.5h1M719 135.5h2M721 136.5h1M722 137.5h1M723 138.5h2M725 139.5h1M726 140.5h1M727 141.5h1M728 142.5h2M730 143.5h1M731 144.5h1M732 145.5h2M734 146.5h1M735 147.5h1M736 148.5h1M737 149.5h2M739 150.5h1M740 151.5h1M741 152.5h2M743 153.5h1M744 154.5h1M745 155.5h1M746 156.5h2M748 157.5h1M749 158.5h1M750 159.5h2M752 160.5h1M753 161.5h1M754 162.5h1M755 163.5h2M757 164.5h1M758 165.5h1M759 166.5h2M761 167.5h1M762 168.5h1M763 169.5h2M765 170.5h1M766 171.5h1M767 172.5h1M768 173.5h2M770 174.5h1M771 175.5h1M772 176.5h2M774 177.5h1M775 178.5h1" stroke="#ff0000" stroke-width="1" fill="none"/>
<path d="M779 62.5h1M780 63.5h1M781 64.5h1M782 65.5h1M783 66.5h1M784 67.5h1M785 68.5h1M786 69.5h1M787 70.5h1M788 71.5h1M789 72.5h1M790 73.5h1M791 74.5h1M792 75.5h1M793 76.5h1M794 77.5h1M795 78.5h1M796 79.5h1M797 80.5h1M798 81.5h1M799 82.5h1M800 83.5h1M801 84.5h1M802 85.5h1M803 86.5h1M804 87.5h1M805 88.5h1M806 89.5h1M807 90.5h1M808 91.5h1M809 92.5h2M811 93.5h1M812 94.5h1M813 95.5h1M814 96.5h1M815 97.5h1M816 98.5h1M817 99.5h1M818 100.5h1M819 101.5h1M820 102.5h1M821 103.5h1M822 104.5h1M823 105.5h1M824 106.5h1M825 107.5h1M826 108.5h1M827 109.5h1M828 110.5h1M829 111.5h1M830 112.5h1M831 113.5h1M832 114.5h1M833 115.5h1M834 116.5h1M835 117.5h1M836 118.5h1M837 119.5h1M838 120.5h1M839 121.5h1M840 122.5h1M841 123.5h1M842 124.5h1M843 125.5h1M844 126.5h1M845 127.5h1M846 128.5h1M847 129.5h1M848 130.5h1M849 131.5h1M850 132.5h1M851 133.5h1M852 134.5h1M853 135.5h1M854 136.5h1M855 137.5h1M856 138.5h1M857 139.5h1M858 140.5h1M859 141.5h1M860 142.5h1M861 143.5h1M862 144.5h1M863 145.5h1M864 146.5h1M865 147.5h1M866 148.5h1M867 149.5h1M868 150.5h1M869 151.5h2M871 152.5h1M872 153.5h1M873 154.5h1M874 155.5h1M875 156.5h1M876 157.5h1M877 158.5h1M878 159.5h1M879 160.5h1M880 161.5h1M881 162.5h1M882 163.5h1M883 164.5h1M884 165.5h1M885 166.5h1M886 167.5h1M887 168.5h1M888 169.5h1M889 170.5h1M890 171.5h1M891 172.5h1M892 173.5h1M893 174.5h1M894 175.5h1M895 176.5h1M896 177.5h1M897 178.5h1M898 179.5h1M899 180.5h1M900 181.5h1M901 182.5h1M902 183.5h1M903 184.5h1M904 185.5h1M905 186.5h1M906 187.5h1M907 188.5h1M908 189.5h1M909 190.5h1M910 191.5h1M911 192.5h1M912 193.5h1M913 194.5h1M914 195.5h1M915 196.5h1M916 197.5h1M917 198.5h1M918 199.5h1M919 200.5h1M920 201.5h1M921 202.5h1M922 203.5h1M923 204.5h1M924 205.5h1M925 206.5h1M926 207.5h1M927 208.5h1M928 209.5h1M929 210.5h2M931 211.5h1M932 212.5h1M933 213.5h1M934 214.5h1M935 215.5h1M936 216.5h1M937 217.5h1M938 218.5h1M939 219.5h1M940 220.5h1M941 221.5h1M942 222.5h1M943 223.5h1M944 224.5h1M945 225.5h1M946 226.5h1M947 227.5h1M948 228.5h1M949 229.5h1M950 230.5h1M951 231.5h1M952 232.5h1M953 233.5h1M954 234.5h1M955 235.5h1M956 236.5h1M957 237.5h1M958 238.5h1M959 239.5h1M960 240.5h1" stroke="#ff0000" stroke-width="1" fill="none"/>
<path d="M2 268.5h1M3 267.5h1M4 266.5h1M4 265.5h1M5 264.5h1M6 263.5h1M7 262.5h1M7 261.5h1M8 260.5h1M8 259.5h1M9 258.5h1M9 257.5h1M9 256.5h1M10 255.5h1M10 254.5h1M11 253.5h1M11 252.5h1M11 251.5h1M12 250.5h1M12 249.5h1M12 248.5h1M13 247.5h1M13 246.5h1M13 245.5h1M13 244.5h1M14 243.5h1M14 242.5h1M14 241.5h1M14 240.5h1M15 239.5h1M15 238.5h1M15 237.5h1M15 236.5h1M16 235.5h1M16 234.5h1M16 233.5h1M16 232.5h1M16 231.5h1M17 230.5h1M17 229.5h1M17 228.5h1M17 227.5h1M18 226.5h1M18 225.5h1M18 224.5h1M18 223.5h1M19 222.5h1M19 221.5h1M19 220.5h1M19 221.5h1M20 222.5h1M20 223.5h1M21 224.5h1M21 225.5h1M22 226.5h1M22 227.5h1M23 228.5h1M23 229.5h1M24 230.5h1M24 231.5h1M24 232.5h1M25 233.5h1M25 234.5h1M26 235.5h1M26 236.5h1M26 237.5h1M27 238.5h1M27 239.5h1M28 240.5h1M28 241.5h1M28 242.5h1M29 243.5h1M29 244.5h1M30 245.5h1M30 246.5h1M31 247.5h1M32 248.5h1M33 249.5h1M34 250.5h1M35 251.5h1M36 252.5h2M38 253.5h1M39 254.5h2M41 255.5h2M43 256.5h2M45 257.5h7M52 256.5h1M53 255.5h1M54 254.5h1M55 253.5h1M56 252.5h1M57 251.5h1M57 250.5h1M58 249.5h1M58 248.5h1M59 247.5h1M59 246.5h1M60 245.5h1M60 244.5h1M61 243.5h1M61 242.5h1M62 241.5h1M62 240.5h1M63 239.5h1M64 238.5h1M65 237.5h1M65 236.5h1M66 235.5h1M67 234.5h1M68 233.5h1M68 234.5h1M68 235.5h1M69 236.5h1M69 237.5h1M69 238.5h1M69 239.5h1M69 240.5h1M69 241.5h1M70 242.5h1M70 243.5h1M70 244.5h1M70 245.5h1M70 246.5h1M70 247.5h1M71 248.5h1M71 249.5h1M71 250.5h1M71 251.5h1M71 252.5h1M71 253.5h1M72 254.5h1M72 255.5h1M72 256.5h1M72 257.5h1M72 258.5h1M72 259.5h1M73 260.5h1M73 261.5h1M73 262.5h1M73 263.5h1M73 264.5h1M74 265.5h1M74 266.5h1M74 267.5h1M74 268.5h1M75 269.5h1M75 270.5h1M75 271.5h1M75 272.5h1M76 273.5h1M76 274.5h1M76 275.5h1M76 276.5h1M76 277.5h1M77 278.5h1M77 279.5h1M77 280.5h1M77 281.5h1M78 282.5h1M78 283.5h1M78 284.5h1M78 285.5h1M79 286.5h1M79 287.5h1M79 288.5h1M80 289.5h1M80 290.5h1M80 291.5h1M81 292.5h1M81 293.5h1M82 294.5h1M82 295.5h1M82 296.5h1M83 297.5h1M83 298.5h1M83 299.5h1M84 300.5h1M84 301.5h1M85 302.5h1M85 303.5h1M86 304.5h1M86 305.5h1M87 306.5h1M87 307.5h1M88 308.5h1M88 309.5h1M89 310.5h1M89 311.5h1M90 312.5h2M92 313.5h1M93 314.5h2M95 315.5h1M95 314.5h1M96 313.5h1M96 312.5h1M96 311.5h1M96 310.5h1M97 309.5h1M97 308.5h1M97 307.5h1M98 306.5h1M98 305.5h1M98 304.5h1M99 303.5h1M99 302.5h1M99 301.5h1M99 300.5h1M100 299.5h1M100 298.5h1M101 297.5h2M103 296.5h2M105 295.5h1M106 294.5h1M107 293.5h1M108 292.5h2M110 291.5h1M111 290.5h1M112 291.5h1M113 292.5h1M114 293.5h1M115 294.5h1M116 295.5h1M116 296.5h1M117 297.5h1M117 298.5h1M118 299.5h1M118 300.5h1M119 301.5h1M119 302.5h1M119 303.5h1M120 304.5h1M120 305.5h1M121 306.5h1M121 307.5h1M122 306.5h1M123 305.5h1M123 304.5h1M124 303.5h1M125 302.5h1M126 301.5h1M126 300.5h1M127 299.5h1M128 298.5h1M128 297.5h1M129 296.5h1M130 295.5h1M131 294.5h1M131 293.5h1M132 292.5h1M133 291.5h1M134 290.5h1M135 289.5h1M136 288.5h1M137 287.5h1M138 286.5h1M139 285.5h2M141 284.5h2M143 283.5h1M144 282.5h1M144 281.5h1M145 280.5h1M146 279.5h1M147 278.5h1M147 277.5h1M148 276.5h1M149 277.5h1M150 278.5h1M151 279.5h2M153 280.5h1M154 281.5h1M154 282.5h1M155 283.5h1M155 284.5h1M155 285.5h1M156 286.5h1M156 287.5h1M157 288.5h1M157 289.5h1M157 290.5h1M158 291.5h1M158 292.5h1M158 293.5h1M159 294.5h1M159 295.5h1M160 296.5h1M161 297.5h1M162 298.5h1M162 299.5h1M163 300.5h1M164 301.5h1M165 302.5h1M166 301.5h1M166 300.5h1M167 299.5h1M168 298.5h1M169 297.5h1M169 296.5h1M170 295.5h1M170 296.5h1M171 297.5h1M171 298.5h1M172 299.5h1M172 300.5h1M172 301.5h1M173 302.5h1M173 303.5h1M173 304.5h1M174 305.5h1M174 306.5h1M175 307.5h1M175 308.5h1M175 309.5h1M175 310.5h1M176 311.5h1M176 312.5h1M176 313.5h1M176 314.5h1M177 315.5h1M177 316.5h1M177 317.5h1M177 318.5h1M178 319.5h1M178 320.5h1M178 321.5h1M178 322.5h1M178 323.5h1M179 324.5h1M179 325.5h1M179 326.5h1M179 327.5h1M180 328.5h1M180 329.5h1M180 330.5h1M180 331.5h1M181 332.5h1M181 333.5h1M181 334.5h1M181 335.5h1M181 336.5h1M182 337.5h1M182 338.5h1M182 339.5h1M182 340.5h1M183 341.5h1M183 342.5h1M183 343.5h1M183 344.5h1M183 345.5h1M184 346.5h1M184 347.5h1M184 348.5h1M184 349.5h1M184 350.5h1M185 351.5h1M185 352.5h1M185 353.5h1M185 354.5h1M186 355.5h1M186 356.5h1M186 357.5h1M187 358.5h1M188 359.5h1M189 360.5h1M190 361.5h1M191 362.5h1M192 363.5h1M193 362.5h1M194 361.5h1M195 360.5h1M195 359.5h1M196 358.5h1M197 357.5h1M198 356.5h1M199 355.5h2M201 354.5h1M202 353.5h2M204 352.5h3M207 351.5h2M209 350.5h2M211 349.5h2M213 348.5h1M214 347.5h1M215 346.5h1M216 345.5h1M216 344.5h1M217 343.5h1M218 342.5h1M219 341.5h1M220 340.5h1M221 339.5h2M223 338.5h1M224 337.5h1M225 336.5h2M227 335.5h2M229 334.5h1M230 333.5h1M231 332.5h1M232 331.5h1M232 330.5h1M233 329.5h1M234 328.5h1M235 327.5h3M238 326.5h4M242 325.5h2M244 324.5h2M246 325.5h2M248 326.5h1M249 327.5h2M251 328.5h1M252 329.5h1M253 330.5h2M255 331.5h1M256 332.5h1M257 333.5h1M257 334.5h1M258 335.5h1M258 336.5h1M259 337.5h1M260 338.5h1M260 339.5h1M261 340.5h1M261 341.5h1M262 342.5h1M262 343.5h1M263 344.5h1M263 345.5h1M263 346.5h1M264 347.5h1M264 348.5h1M264 349.5h1M265 350.5h1M265 351.5h1M265 352.5h1M265 353.5h1M266 354.5h1M266 355.5h1M266 356.5h1M267 357.5h1M267 358.5h1M267 359.5h1M268 360.5h1M268 361.5h1M269 362.5h1M269 363.5h1M270 364.5h1M270 365.5h1M270 366.5h1M271 367.5h1M271 368.5h1M272 369.5h1M272 370.5h1M273 371.5h1M274 372.5h1M274 373.5h1M275 374.5h1M276 375.5h1M277 376.5h1M277 377.5h1M278 378.5h1M279 379.5h1M279 380.5h1M280 381.5h1M281 382.5h1M281 383.5h1M282 384.5h1M282 385.5h1M283 386.5h1M284 387.5h1M285 388.5h1M286 389.5h1M287 390.5h1M288 391.5h1M289 392.5h7M296 391.5h2M298 390.5h2M299 389.5h1M300 388.5h1M300 387.5h1M300 386.5h1M301 385.5h1M301 384.5h1M301 383.5h1M302 382.5h1M302 381.5h1M303 380.5h1M303 379.5h1M303 378.5h1M304 377.5h1M304 376.5h1M304 375.5h1M305 374.5h1M305 373.5h1M305 372.5h1M305 371.5h1M306 370.5h1M306 369.5h1M306 368.5h1M306 367.5h1M306 366.5h1M307 365.5h1M307 364.5h1M307 363.5h1M307 362.5h1M307 361.5h1M308 360.5h1M308 359.5h1M308 358.5h1M308 357.5h1M308 356.5h1M308 355.5h1M309 354.5h1M309 353.5h1M309 352.5h1M309 351.5h1M309 350.5h1M310 349.5h1M310 348.5h1M310 347.5h1M311 348.5h1M311 349.5h1M312 350.5h1M312 351.5h1M313 352.5h1M313 353.5h1M314 354.5h1M314 355.5h1M315 356.5h1M315 357.5h1M316 358.5h1M316 359.5h1M316 360.5h1M316 361.5h1M317 362.5h1M317 363.5h1M317 364.5h1M317 365.5h1M317 366.5h1M317 367.5h1M318 368.5h1M318 369.5h1M318 370.5h1M318 371.5h1M318 372.5h1M318 373.5h1M319 374.5h1M319 375.5h1M319 376.5h1M319 377.5h1M319 378.5h1M319 379.5h1M320 380.5h1M320 381.5h1M320 382.5h1M320 383.5h1M320 384.5h1M320 385.5h1M321 386.5h1M321 387.5h1M321 388.5h1M321 389.5h1M322 390.5h1M322 391.5h1M322 392.5h1M323 393.5h1M323 394.5h1M323 395.5h1M324 396.5h1M324 397.5h1M324 398.5h1M324 399.5h1M325 400.5h1M325 401.5h1M325 402.5h1M326 403.5h1M326 404.5h1M326 405.5h1M327 406.5h1M327 407.5h1M327 408.5h1M328 409.5h1M328 410.5h1M328 411.5h1M329 412.5h1M329 413.5h1M329 414.5h1M330 415.5h1M330 416.5h1M330 417.5h1M331 418.5h1M331 419.5h1M331 420.5h1M332 421.5h1M332 422.5h12M343 421.5h1M344 420.5h1M344 419.5h1M344 418.5h1M344 417.5h1M345 416.5h1M345 415.5h1M345 414.5h1M346 413.5h1M346 412.5h1M346 411.5h1M347 410.5h1M347 409.5h1M347 408.5h1M347 407.5h1M348 406.5h1M348 405.5h1M348 404.5h1M348 403.5h1M349 402.5h1M349 401.5h1M349 400.5h1M349 399.5h1M349 398.5h1M349 397.5h1M350 396.5h1M350 395.5h1M350 394.5h1M350 393.5h1M350 392.5h1M350 391.5h1M351 390.5h1M351 389.5h1M351 388.5h1M351 387.5h1M351 386.5h1M351 385.5h1M352 384.5h1M352 383.5h1M352 382.5h1M352 381.5h1M352 380.5h1M352 379.5h1M353 378.5h1M353 377.5h1M353 376.5h1M353 375.5h1M353 374.5h1M353 373.5h1M354 372.5h1M354 371.5h1M354 370.5h1M354 369.5h1M354 368.5h1M354 367.5h1M355 366.5h1M355 365.5h1M355 364.5h1M355 363.5h1M355 362.5h1M356 361.5h1M356 360.5h1M356 359.5h1M356 358.5h1M356 357.5h1M356 356.5h1M357 355.5h1M357 354.5h1M357 353.5h1M357 352.5h1M357 351.5h1M358 350.5h1M358 349.5h1M358 348.5h1M358 347.5h1M358 346.5h1M358 345.5h1M359 344.5h1M359 343.5h1M359 342.5h1M359 341.5h1M360 340.5h1M360 339.5h1M360 338.5h1M361 337.5h1M361 336.5h1M361 335.5h1M362 334.5h1M362 333.5h1M362 332.5h1M363 331.5h1M363 330.5h1M363 329.5h1M364 328.5h1M364 327.5h1M364 326.5h1M365 325.5h1M365 324.5h1M366 323.5h1M366 322.5h1M366 321.5h1M367 320.5h1M367 319.5h1M367 318.5h1M368 317.5h1M368 316.5h1M369 315.5h1M369 314.5h1M370 313.5h1M371 312.5h1M371 311.5h1M372 310.5h1M373 309.5h1M374 308.5h1M374 307.5h1M375 306.5h3M378 305.5h9M386 304.5h1M387 303.5h1M387 302.5h1M388 301.5h1M388 300.5h1M389 299.5h1M389 298.5h1M390 297.5h1M390 296.5h1M391 295.5h1M391 294.5h1M392 293.5h1M393 292.5h1M394 291.5h1M395 290.5h1M396 289.5h1M397 290.5h1M398 291.5h1M399 292.5h2M401 293.5h1M402 294.5h1M403 295.5h1M404 296.5h1M405 297.5h1M406 298.5h1M407 299.5h1M408 300.5h1M409 301.5h1M410 302.5h1M411 303.5h1M412 304.5h1M413 305.5h1M414 306.5h1M415 307.5h2M417 308.5h1M418 309.5h3M421 310.5h11M432 311.5h5M437 310.5h4M441 309.5h1M442 308.5h1M443 307.5h1M443 306.5h1M444 305.5h1M445 304.5h2M447 303.5h2M449 302.5h4M453 303.5h4M456 302.5h1M456 301.5h1M457 300.5h1M457 299.5h1M457 298.5h1M457 297.5h1M457 296.5h1M458 295.5h1M458 294.5h1M458 293.5h1M458 292.5h1M458 291.5h1M458 290.5h1M459 289.5h1M459 288.5h1M459 287.5h1M459 286.5h1M459 285.5h1M460 284.5h1M460 283.5h1M460 282.5h1M460 281.5h1M460 280.5h1M460 279.5h1M461 278.5h1M461 277.5h1M461 276.5h1M461 275.5h1M462 274.5h1M462 273.5h1M462 272.5h1M463 271.5h1M463 270.5h1M463 269.5h1M464 268.5h1M464 267.5h1M464 266.5h1M464 265.5h1M465 264.5h1M465 263.5h1M465 262.5h1M466 261.5h1M466 260.5h1M466 259.5h1M467 258.5h1M467 257.5h1M467 256.5h1M468 255.5h1M468 254.5h1M468 253.5h1M469 252.5h1M469 251.5h1M470 250.5h1M470 249.5h1M470 248.5h1M471 247.5h1M471 246.5h1M471 245.5h1M472 244.5h1M472 243.5h1M472 242.5h1M473 241.5h1M473 240.5h1M474 239.5h1M474 238.5h1M475 237.5h1M475 236.5h1M476 235.5h1M476 234.5h1M477 233.5h1M477 232.5h1M477 231.5h1M478 230.5h1M478 229.5h1M478 228.5h1M479 227.5h1M479 226.5h1M479 225.5h1M479 224.5h1M480 223.5h1M480 222.5h1M480 221.5h1M481 220.5h1M481 219.5h1M481 218.5h1M482 217.5h1M482 216.5h1M482 215.5h1M482 214.5h1M483 213.5h1M483 212.5h1M483 211.5h1M484 210.5h1M484 209.5h1M484 208.5h1M484 207.5h1M485 206.5h1M485 205.5h1M485 204.5h1M486 203.5h1M486 202.5h1M486 201.5h1M486 200.5h1M487 199.5h1M487 198.5h1M487 197.5h1M487 196.5h1M488 195.5h1M488 194.5h1M489 193.5h1M489 192.5h1M490 191.5h1M491 190.5h1M492 189.5h1M492 188.5h1M493 187.5h1M494 186.5h1M495 185.5h1M496 184.5h2M498 183.5h1M499 182.5h1M500 181.5h1M501 180.5h1M502 179.5h1M502 178.5h1M503 177.5h1M504 176.5h2M506 175.5h3M509 174.5h3M512 175.5h2M514 176.5h2M516 177.5h1M517 178.5h1M518 179.5h1M518 180.5h1M519 181.5h1M520 182.5h1M521 181.5h1M522 180.5h1M523 179.5h2M525 178.5h1M526 177.5h1M527 176.5h1M527 175.5h1M528 174.5h1M528 173.5h1M529 172.5h1M529 171.5h1M530 170.5h1M530 169.5h1M531 168.5h1M531 167.5h1M531 166.5h1M532 165.5h1M532 164.5h1M533 163.5h1M533 162.5h1M534 161.5h1M534 160.5h1M534 159.5h1M535 158.5h1M535 157.5h1M536 156.5h1M536 155.5h1M537 154.5h1M537 153.5h1M538 152.5h1M539 151.5h1M540 150.5h1M540 149.5h1M541 148.5h1M542 147.5h1M543 146.5h1M544 145.5h2M546 144.5h1M547 143.5h2M549 144.5h3M552 145.5h2M553 144.5h1M554 143.5h1M554 142.5h1M554 141.5h1M555 140.5h1M555 139.5h1M555 138.5h1M555 137.5h1M556 136.5h1M556 135.5h1M556 134.5h1M556 133.5h1M556 132.5h1M556 131.5h1M557 130.5h1M557 129.5h1M557 128.5h1M557 127.5h1M557 126.5h1M557 125.5h1M557 124.5h1M557 123.5h1M557 122.5h1M558 121.5h1M558 120.5h1M558 119.5h1M558 118.5h1M558 117.5h1M559 116.5h2M561 115.5h2M563 114.5h2M565 115.5h1M565 116.5h1M566 117.5h1M566 118.5h1M567 119.5h1M567 120.5h1M568 121.5h1M568 122.5h1M569 123.5h1M569 124.5h1M570 125.5h1M570 126.5h1M571 127.5h1M572 128.5h1M573 129.5h1M573 130.5h1M574 131.5h1M575 132.5h2M577 133.5h1M578 134.5h2M580 135.5h1M581 136.5h1M582 137.5h1M583 138.5h1M584 139.5h1M585 140.5h1M585 141.5h1M586 142.5h1M586 143.5h1M587 144.5h1M587 145.5h1M587 146.5h1M588 147.5h1M588 148.5h1M589 149.5h1M589 150.5h1M589 151.5h1M590 152.5h1M590 153.5h1M591 154.5h1M591 155.5h1M591 156.5h1M592 157.5h1M592 158.5h1M592 159.5h1M592 160.5h1M593 161.5h1M593 162.5h1M593 163.5h1M594 164.5h1M594 165.5h1M594 166.5h1M594 167.5h1M595 168.5h1M595 169.5h1M595 170.5h1M595 171.5h1M596 172.5h1M596 173.5h1M596 174.5h1M597 175.5h1M597 176.5h1M597 177.5h1M597 178.5h1M598 179.5h1M598 180.5h1M598 181.5h1M599 182.5h1M599 183.5h1M599 184.5h1M600 185.5h1M600 186.5h1M600 187.5h1M600 188.5h1M601 189.5h1M601 190.5h1M602 189.5h1M602 188.5h1M603 187.5h1M603 186.5h1M604 185.5h1M604 184.5h1M605 183.5h1M605 182.5h1M606 181.5h1M606 180.5h1M607 179.5h1M608 178.5h1M608 177.5h1M609 176.5h1M610 175.5h1M610 174.5h1M611 173.5h1M611 172.5h1M612 171.5h1M612 170.5h1M613 169.5h1M613 168.5h1M613 167.5h1M613 166.5h1M614 165.5h1M614 164.5h1M614 163.5h1M614 162.5h1M615 161.5h1M615 160.5h1M615 159.5h1M615 158.5h1M616 157.5h1M616 156.5h1M616 155.5h1M616 154.5h1M617 153.5h1M617 152.5h1M618 153.5h1M618 154.5h1M619 155.5h1M620 156.5h1M620 157.5h1M621 158.5h1M622 159.5h1M622 160.5h1M623 161.5h1M623 162.5h1M624 163.5h1M624 164.5h1M625 165.5h1M625 166.5h1M625 167.5h1M626 168.5h1M626 169.5h1M626 170.5h1M627 171.5h1M627 172.5h1M628 173.5h1M628 174.5h1M629 175.5h1M630 176.5h1M630 177.5h1M631 178.5h1M632 179.5h1M633 180.5h1M633 181.5h1M634 182.5h1M635 183.5h1M636 184.5h1M637 185.5h1M637 186.5h1M638 187.5h1M639 188.5h1M640 187.5h2M642 186.5h2M644 185.5h1M645 186.5h2M647 187.5h2M649 188.5h2M650 187.5h1M651 186.5h1M651 185.5h1M651 184.5h1M652 183.5h1M652 182.5h1M652 181.5h1M653 180.5h1M653 179.5h1M653 178.5h1M654 177.5h1M654 176.5h1M654 175.5h1M655 174.5h1M655 173.5h1M656 172.5h1M656 171.5h1M657 170.5h1M657 169.5h1M658 168.5h1M658 167.5h1M659 166.5h1M659 165.5h1M660 164.5h1M660 163.5h1M661 162.5h1M662 161.5h1M662 160.5h1M663 159.5h1M664 158.5h1M665 157.5h1M665 156.5h1M666 155.5h1M667 154.5h1M668 153.5h1M669 152.5h1M670 151.5h1M671 150.5h1M672 149.5h1M672 148.5h1M673 147.5h1M673 146.5h1M674 145.5h1M674 144.5h1M675 143.5h1M675 142.5h1M676 141.5h1M676 140.5h1M677 139.5h1M678 138.5h2M680 137.5h2M682 136.5h1M683 135.5h1M684 134.5h1M685 133.5h1M685 132.5h1M686 131.5h1M687 130.5h1M688 129.5h1M689 128.5h1M689 127.5h1M690 126.5h1M691 125.5h1M692 124.5h1M692 123.5h1M693 122.5h1M694 121.5h1M695 120.5h2M697 119.5h1M698 118.5h1M699 119.5h1M700 120.5h1M701 121.5h1M702 122.5h1M703 123.5h1M704 124.5h1M705 125.5h1M705 126.5h1M706 127.5h1M707 128.5h1M708 129.5h1M708 130.5h1M709 131.5h1M710 132.5h1M711 133.5h1M712 134.5h1M712 135.5h1M713 136.5h1M714 137.5h1M715 138.5h1M716 139.5h1M716 140.5h1M717 141.5h1M718 142.5h1M719 143.5h1M719 144.5h1M720 145.5h1M721 146.5h1M722 147.5h1M723 148.5h1M723 149.5h1M724 150.5h1M725 151.5h1M726 152.5h1M727 153.5h1M728 154.5h1M728 155.5h1M729 156.5h1M730 157.5h1M731 158.5h1M732 159.5h1M733 160.5h1M734 161.5h1M734 162.5h1M735 163.5h1M736 164.5h3M739 165.5h3M742 164.5h1M743 163.5h1M743 162.5h1M744 161.5h1M745 160.5h1M746 159.5h1M746 158.5h1M747 157.5h1M747 156.5h1M747 155.5h1M748 154.5h1M748 153.5h1M748 152.5h1M748 151.5h1M749 150.5h1M749 149.5h1M749 148.5h1M749 147.5h1M750 146.5h1M750 145.5h1M750 144.5h1M750 143.5h1M750 142.5h1M751 141.5h1M751 140.5h1M751 139.5h1M751 138.5h1M752 137.5h1M752 136.5h1M752 135.5h1M752 134.5h1M753 133.5h1M753 132.5h1M753 131.5h1M753 130.5h1M754 129.5h1M754 128.5h1M754 127.5h1M754 126.5h1M755 125.5h1M755 124.5h1M755 123.5h1M755 122.5h1M756 121.5h1M756 120.5h1M756 119.5h1M756 118.5h1M757 117.5h1M757 116.5h1M757 115.5h1M757 114.5h1M758 113.5h1M758 112.5h1M758 111.5h1M758 110.5h1M759 109.5h1M759 108.5h1M759 107.5h1M760 106.5h1M760 105.5h1M761 104.5h1M761 103.5h1M761 102.5h1M762 101.5h1M762 100.5h1M762 99.5h1M763 98.5h1M763 97.5h1M764 96.5h1M765 95.5h1M766 94.5h1M767 93.5h1M768 92.5h1M769 91.5h2M771 90.5h1M772 89.5h2M774 88.5h1M775 87.5h1M776 86.5h2M778 85.5h1M779 84.5h1M780 85.5h1M780 86.5h1M781 87.5h1M781 88.5h1M782 89.5h1M782 90.5h1M783 91.5h1M783 92.5h1M784 93.5h1M784 94.5h1M785 95.5h1M785 96.5h1M785 97.5h1M786 98.5h1M786 99.5h1M786 100.5h1M786 101.5h1M786 102.5h1M787 103.5h1M787 104.5h1M787 105.5h1M787 106.5h1M788 107.5h1M788 108.5h1M788 109.5h1M788 110.5h1M788 111.5h1M789 112.5h1M789 113.5h1M789 114.5h1M789 115.5h1M789 116.5h1M790 117.5h1M790 118.5h1M790 119.5h1M790 120.5h1M791 121.5h1M791 122.5h1M791 123.5h1M792 124.5h1M792 125.5h1M793 126.5h1M793 127.5h1M793 128.5h1M794 129.5h1M794 130.5h1M794 131.5h1M795 132.5h1M795 133.5h1M796 134.5h1M797 135.5h1M798 136.5h1M798 137.5h1M799 138.5h1M800 139.5h1M801 140.5h1M802 141.5h1M803 142.5h1M804 143.5h1M805 144.5h1M806 145.5h3M809 146.5h4M813 145.5h1M813 144.5h1M814 143.5h1M814 142.5h1M815 141.5h1M815 140.5h1M816 139.5h1M816 138.5h1M817 137.5h1M818 136.5h1M818 135.5h1M819 134.5h1M820 133.5h1M820 132.5h1M821 131.5h1M821 130.5h1M822 129.5h1M823 130.5h1M823 131.5h1M824 132.5h1M824 133.5h1M825 134.5h1M825 135.5h1M826 136.5h1M826 137.5h1M827 138.5h1M827 139.5h1M828 140.5h1M828 141.5h1M829 142.5h1M829 143.5h1M830 144.5h1M831 145.5h1M831 146.5h1M832 147.5h1M832 148.5h1M833 149.5h1M834 150.5h2M836 151.5h2M838 152.5h2M840 153.5h2M842 154.5h2M844 155.5h1M844 156.5h1M845 157.5h1M845 158.5h1M846 159.5h1M846 160.5h1M847 161.5h1M847 162.5h1M848 163.5h1M848 164.5h1M849 165.5h1M849 166.5h1M849 167.5h1M850 168.5h1M850 169.5h1M850 170.5h1M850 171.5h1M851 172.5h1M851 173.5h1M851 174.5h1M852 175.5h1M852 176.5h1M852 177.5h1M852 178.5h1M853 179.5h1M853 180.5h1M853 181.5h1M854 182.5h1M854 183.5h1M854 184.5h1M854 185.5h1M855 186.5h1M855 187.5h1M855 188.5h1M856 189.5h1M856 190.5h1M856 191.5h1M857 192.5h1M857 193.5h1M857 194.5h1M858 195.5h1M858 196.5h1M858 197.5h1M858 198.5h1M859 199.5h1M859 200.5h1M859 201.5h1M860 202.5h1M860 203.5h1M860 204.5h1M861 205.5h1M861 206.5h1M861 207.5h1M862 208.5h1M862 209.5h1M862 210.5h1M863 211.5h1M863 212.5h1M863 213.5h1M863 214.5h1M864 215.5h1M864 216.5h1M864 217.5h1M865 218.5h1M865 219.5h1M865 220.5h1M866 221.5h1M866 222.5h1M866 223.5h1M867 224.5h1M867 225.5h1M867 226.5h1M868 227.5h1M868 228.5h1M868 229.5h1M869 230.5h1M869 231.5h1M869 232.5h1M870 233.5h1M870 234.5h1M870 235.5h1M871 236.5h1M871 237.5h1M871 238.5h1M872 239.5h1M872 240.5h1M873 241.5h1M873 242.5h1M873 243.5h1M874 244.5h1M874 245.5h1M874 246.5h1M875 247.5h1M875 248.5h1M876 249.5h1M876 250.5h1M876 251.5h1M877 252.5h1M877 253.5h1M877 254.5h1M878 255.5h1M878 256.5h1M878 257.5h1M878 258.5h1M879 259.5h1M879 260.5h1M879 261.5h1M880 262.5h1M880 263.5h1M880 264.5h1M881 265.5h1M881 266.5h1M881 267.5h1M881 268.5h1M882 269.5h1M882 270.5h1M883 269.5h1M883 268.5h1M884 267.5h1M885 266.5h1M885 265.5h1M886 264.5h1M886 263.5h1M887 262.5h1M888 261.5h1M889 260.5h1M890 259.5h1M891 258.5h1M892 257.5h1" stroke="#ff0000" stroke-width="1" fill="none"/>
<g stroke="#000" stroke-width="1" fill="none">
<circle cx="558.1" cy="62.8" r="15"/>
<circle cx="768.9" cy="67.9" r="16.6"/>
<circle cx="877.9" cy="235.2" r="27"/>
</g>
</g>
<g fill="#000">
<text transform="translate(19 14) scale(0.822 1)">846740&#160;&#160;VDAX, 1 Stunde - 22.06.2004 15:00:00 - 16.07.2004 18:00:00 - 18.35</text>
<text transform="translate(19 28) scale(0.822 1)">BBD [Close, 20, 2] Moving Average:18.8105 Upper Band:19.866369 Lower Band:17.754631</text>
</g>
<text transform="translate(19 42) scale(0.822 1)" fill="#ff0000">EMA(4) [Close, 5]:18.237138</text>
<g stroke="#000" stroke-width="1" fill="none"><rect x="6.5" y="6.5" width="6" height="6"/><line x1="9.5" y1="4" x2="9.5" y2="7"/><line x1="9.5" y1="12" x2="9.5" y2="15"/></g>
<path d="M4 18.5h1M5 19.5h1M5 20.5h1M6 21.5h1M6 22.5h1M7 23.5h1M7 24.5h1M8 25.5h1M8 26.5h1M9 27.5h1M9 28.5h1M10 27.5h1M10 26.5h1M11 25.5h1M11 24.5h1M12 23.5h1M12 22.5h1M13 21.5h1M13 20.5h1M14 19.5h1M14 18.5h1" stroke="#000" stroke-width="1" fill="none"/>
<path d="M4 28.5h1M5 27.5h1M5 26.5h1M6 25.5h1M6 24.5h1M7 23.5h1M7 22.5h1M8 21.5h1M8 20.5h1M9 19.5h1M9 18.5h1M10 19.5h1M10 20.5h1M11 21.5h1M11 22.5h1M12 23.5h1M12 24.5h1M13 25.5h1M13 26.5h1M14 27.5h1M14 28.5h1" stroke="#000" stroke-width="1" fill="none"/>
<path d="M4 32.5h1M5 33.5h1M5 34.5h1M6 35.5h1M6 36.5h1M7 37.5h1M7 38.5h1M8 39.5h1M8 40.5h1M9 41.5h1M9 42.5h1M10 41.5h1M10 40.5h1M11 39.5h1M11 38.5h1M12 37.5h1M12 36.5h1M13 35.5h1M13 34.5h1M14 33.5h1M14 32.5h1" stroke="#ff0000" stroke-width="1" fill="none"/>
<path d="M4 42.5h1M5 41.5h1M5 40.5h1M6 39.5h1M6 38.5h1M7 37.5h1M7 36.5h1M8 35.5h1M8 34.5h1M9 33.5h1M9 32.5h1M10 33.5h1M10 34.5h1M11 35.5h1M11 36.5h1M12 37.5h1M12 38.5h1M13 39.5h1M13 40.5h1M14 41.5h1M14 42.5h1" stroke="#ff0000" stroke-width="1" fill="none"/>
<g clip-path="url(#c2)">
<rect x="1" y="559" width="965" height="1" fill="#000"/>
<rect x="2" y="543" width="3" height="17" fill="#000"/>
<rect x="7" y="545" width="3" height="15" fill="#000"/>
<rect x="12" y="546" width="5" height="14" fill="#000"/>
<rect x="18" y="550" width="3" height="10" fill="#000"/>
<rect x="23" y="556" width="3" height="4" fill="#000"/>
<rect x="28" y="558" width="5" height="2" fill="#000"/>
<rect x="34" y="558" width="3" height="2" fill="#000"/>
<rect x="39" y="556" width="5" height="4" fill="#000"/>
<rect x="45" y="556" width="3" height="4" fill="#000"/>
<rect x="50" y="556" width="3" height="4" fill="#000"/>
<rect x="55" y="553" width="5" height="7" fill="#000"/>
<rect x="61" y="552" width="3" height="8" fill="#000"/>
<rect x="66" y="559" width="5" height="4" fill="#000"/>
<rect x="72" y="559" width="3" height="12" fill="#000"/>
<rect x="77" y="559" width="3" height="16" fill="#000"/>
<rect x="82" y="559" width="5" height="19" fill="#000"/>
<rect x="88" y="559" width="3" height="11" fill="#000"/>
<rect x="93" y="559" width="5" height="8" fill="#000"/>
<rect x="99" y="559" width="3" height="4" fill="#000"/>
<rect x="104" y="559" width="3" height="6" fill="#000"/>
<rect x="109" y="559" width="5" height="5" fill="#000"/>
<rect x="115" y="559" width="3" height="6" fill="#000"/>
<rect x="120" y="559" width="3" height="14" fill="#000"/>
<rect x="125" y="559" width="5" height="10" fill="#000"/>
<rect x="131" y="559" width="3" height="8" fill="#000"/>
<rect x="136" y="553" width="5" height="7" fill="#000"/>
<rect x="142" y="555" width="3" height="5" fill="#000"/>
<rect x="147" y="553" width="3" height="7" fill="#000"/>
<rect x="152" y="556" width="5" height="4" fill="#000"/>
<rect x="163" y="559" width="5" height="8" fill="#000"/>
<rect x="169" y="558" width="3" height="2" fill="#000"/>
<rect x="174" y="559" width="3" height="11" fill="#000"/>
<rect x="179" y="559" width="5" height="12" fill="#000"/>
<rect x="185" y="559" width="3" height="9" fill="#000"/>
<rect x="190" y="559" width="5" height="12" fill="#000"/>
<rect x="196" y="559" width="3" height="10" fill="#000"/>
<rect x="201" y="559" width="3" height="9" fill="#000"/>
<rect x="206" y="559" width="5" height="9" fill="#000"/>
<rect x="212" y="559" width="3" height="12" fill="#000"/>
<rect x="217" y="559" width="5" height="6" fill="#000"/>
<rect x="223" y="559" width="3" height="5" fill="#000"/>
<rect x="228" y="559" width="3" height="4" fill="#000"/>
<rect x="233" y="559" width="5" height="6" fill="#000"/>
<rect x="239" y="556" width="3" height="4" fill="#000"/>
<rect x="244" y="553" width="3" height="7" fill="#000"/>
<rect x="249" y="553" width="5" height="7" fill="#000"/>
<rect x="255" y="556" width="3" height="4" fill="#000"/>
<rect x="260" y="559" width="5" height="6" fill="#000"/>
<rect x="266" y="559" width="3" height="5" fill="#000"/>
<rect x="271" y="559" width="3" height="8" fill="#000"/>
<rect x="276" y="559" width="5" height="8" fill="#000"/>
<rect x="282" y="559" width="3" height="11" fill="#000"/>
<rect x="287" y="559" width="5" height="9" fill="#000"/>
<rect x="293" y="559" width="3" height="9" fill="#000"/>
<rect x="298" y="559" width="3" height="11" fill="#000"/>
<rect x="303" y="559" width="5" height="4" fill="#000"/>
<rect x="309" y="558" width="3" height="2" fill="#000"/>
<rect x="314" y="559" width="5" height="8" fill="#000"/>
<rect x="320" y="559" width="3" height="12" fill="#000"/>
<rect x="325" y="559" width="3" height="12" fill="#000"/>
<rect x="330" y="559" width="5" height="10" fill="#000"/>
<rect x="336" y="559" width="3" height="5" fill="#000"/>
<rect x="341" y="559" width="5" height="6" fill="#000"/>
<rect x="347" y="556" width="3" height="4" fill="#000"/>
<rect x="352" y="551" width="3" height="9" fill="#000"/>
<rect x="357" y="550" width="5" height="10" fill="#000"/>
<rect x="363" y="551" width="3" height="9" fill="#000"/>
<rect x="368" y="556" width="3" height="4" fill="#000"/>
<rect x="379" y="551" width="3" height="9" fill="#000"/>
<rect x="384" y="547" width="5" height="13" fill="#000"/>
<rect x="390" y="542" width="3" height="18" fill="#000"/>
<rect x="395" y="542" width="3" height="18" fill="#000"/>
<rect x="400" y="548" width="5" height="12" fill="#000"/>
<rect x="406" y="548" width="3" height="12" fill="#000"/>
<rect x="411" y="554" width="5" height="6" fill="#000"/>
<rect x="417" y="559" width="3" height="3" fill="#000"/>
<rect x="422" y="559" width="3" height="5" fill="#000"/>
<rect x="427" y="559" width="5" height="4" fill="#000"/>
<rect x="433" y="559" width="3" height="6" fill="#000"/>
<rect x="438" y="559" width="5" height="6" fill="#000"/>
<rect x="454" y="559" width="5" height="6" fill="#000"/>
<rect x="460" y="555" width="3" height="5" fill="#000"/>
<rect x="465" y="552" width="5" height="8" fill="#000"/>
<rect x="471" y="551" width="3" height="9" fill="#000"/>
<rect x="476" y="549" width="3" height="11" fill="#000"/>
<rect x="481" y="543" width="5" height="17" fill="#000"/>
<rect x="487" y="544" width="3" height="16" fill="#000"/>
<rect x="492" y="545" width="3" height="15" fill="#000"/>
<rect x="497" y="544" width="5" height="16" fill="#000"/>
<rect x="503" y="543" width="3" height="17" fill="#000"/>
<rect x="508" y="547" width="5" height="13" fill="#000"/>
<rect x="514" y="548" width="3" height="12" fill="#000"/>
<rect x="519" y="548" width="3" height="12" fill="#000"/>
<rect x="524" y="552" width="5" height="8" fill="#000"/>
<rect x="530" y="551" width="3" height="9" fill="#000"/>
<rect x="535" y="549" width="5" height="11" fill="#000"/>
<rect x="541" y="552" width="3" height="8" fill="#000"/>
<rect x="546" y="556" width="3" height="4" fill="#000"/>
<rect x="551" y="557" width="5" height="3" fill="#000"/>
<rect x="557" y="547" width="3" height="13" fill="#000"/>
<rect x="562" y="552" width="5" height="8" fill="#000"/>
<rect x="568" y="556" width="3" height="4" fill="#000"/>
<rect x="573" y="558" width="3" height="2" fill="#000"/>
<rect x="578" y="556" width="5" height="4" fill="#000"/>
<rect x="584" y="554" width="3" height="6" fill="#000"/>
<rect x="589" y="559" width="5" height="5" fill="#000"/>
<rect x="595" y="559" width="3" height="8" fill="#000"/>
<rect x="600" y="559" width="3" height="16" fill="#000"/>
<rect x="605" y="559" width="5" height="5" fill="#000"/>
<rect x="611" y="559" width="3" height="6" fill="#000"/>
<rect x="616" y="557" width="3" height="3" fill="#000"/>
<rect x="621" y="559" width="5" height="16" fill="#000"/>
<rect x="627" y="559" width="3" height="13" fill="#000"/>
<rect x="632" y="559" width="5" height="10" fill="#000"/>
<rect x="638" y="559" width="3" height="8" fill="#000"/>
<rect x="643" y="559" width="3" height="6" fill="#000"/>
<rect x="648" y="559" width="5" height="8" fill="#000"/>
<rect x="654" y="557" width="3" height="3" fill="#000"/>
<rect x="659" y="552" width="5" height="8" fill="#000"/>
<rect x="665" y="550" width="3" height="10" fill="#000"/>
<rect x="675" y="556" width="5" height="4" fill="#000"/>
<rect x="681" y="559" width="3" height="3" fill="#000"/>
<rect x="686" y="552" width="5" height="8" fill="#000"/>
<rect x="692" y="550" width="3" height="10" fill="#000"/>
<rect x="697" y="550" width="3" height="10" fill="#000"/>
<rect x="702" y="555" width="5" height="5" fill="#000"/>
<rect x="708" y="555" width="3" height="5" fill="#000"/>
<rect x="713" y="554" width="5" height="6" fill="#000"/>
<rect x="719" y="559" width="3" height="5" fill="#000"/>
<rect x="724" y="559" width="3" height="6" fill="#000"/>
<rect x="729" y="559" width="5" height="6" fill="#000"/>
<rect x="735" y="559" width="3" height="6" fill="#000"/>
<rect x="740" y="559" width="3" height="8" fill="#000"/>
<rect x="745" y="559" width="5" height="6" fill="#000"/>
<rect x="751" y="557" width="3" height="3" fill="#000"/>
<rect x="756" y="556" width="5" height="4" fill="#000"/>
<rect x="762" y="555" width="3" height="5" fill="#000"/>
<rect x="767" y="551" width="3" height="9" fill="#000"/>
<rect x="772" y="554" width="5" height="6" fill="#000"/>
<rect x="778" y="551" width="3" height="9" fill="#000"/>
<rect x="783" y="555" width="5" height="5" fill="#000"/>
<rect x="789" y="559" width="3" height="2" fill="#000"/>
<rect x="794" y="559" width="3" height="3" fill="#000"/>
<rect x="799" y="557" width="5" height="3" fill="#000"/>
<rect x="805" y="558" width="3" height="2" fill="#000"/>
<rect x="816" y="559" width="3" height="6" fill="#000"/>
<rect x="821" y="559" width="3" height="8" fill="#000"/>
<rect x="826" y="559" width="5" height="15" fill="#000"/>
<rect x="832" y="559" width="3" height="13" fill="#000"/>
<rect x="837" y="559" width="5" height="11" fill="#000"/>
<rect x="843" y="559" width="3" height="14" fill="#000"/>
<rect x="848" y="559" width="3" height="11" fill="#000"/>
<rect x="853" y="559" width="5" height="12" fill="#000"/>
<rect x="859" y="559" width="3" height="8" fill="#000"/>
<rect x="864" y="559" width="3" height="13" fill="#000"/>
<rect x="869" y="559" width="5" height="17" fill="#000"/>
<rect x="875" y="559" width="3" height="17" fill="#000"/>
<rect x="880" y="559" width="5" height="24" fill="#000"/>
<rect x="886" y="559" width="3" height="18" fill="#000"/>
<rect x="891" y="559" width="3" height="12" fill="#000"/>
</g>
<text transform="translate(18.5 547) scale(0.822 1)" fill="#000">MOM [Close, 12]:-0.75</text>
<g clip-path="url(#c3)">
<rect x="1" y="618" width="965" height="1" fill="#ff0000"/>
<rect x="1" y="630" width="965" height="1" fill="#ff0000"/>
<rect x="1" y="641" width="965" height="1" fill="#ff0000"/>
<path d="M3 628.5h2M5 627.5h2M7 626.5h3M10 625.5h3M13 624.5h2M15 623.5h3M18 622.5h3M21 621.5h2M23 620.5h11M34 619.5h13M47 620.5h5M52 621.5h5M57 622.5h5M62 623.5h4M66 624.5h2M68 625.5h2M70 626.5h2M72 627.5h2M74 628.5h2M76 629.5h2M78 630.5h3M81 631.5h4M85 632.5h4M89 633.5h4M93 634.5h4M97 635.5h4M101 636.5h4M105 637.5h5M110 638.5h4M114 639.5h4M118 638.5h4M122 637.5h3M125 636.5h3M128 635.5h4M132 634.5h4M136 633.5h5M141 632.5h5M146 631.5h29M175 632.5h3M178 633.5h3M181 634.5h3M184 635.5h3M187 636.5h3M190 637.5h3M193 638.5h3M196 639.5h7M203 640.5h12M215 641.5h7M222 640.5h2M224 639.5h2M226 638.5h3M229 637.5h2M231 636.5h2M233 635.5h3M236 634.5h4M240 633.5h4M244 632.5h4M248 631.5h10M258 632.5h11M269 633.5h3M272 634.5h3M275 635.5h3M278 636.5h3M281 637.5h4M285 638.5h4M289 639.5h4M293 640.5h14M307 639.5h3M310 638.5h2M312 637.5h3M315 636.5h9M324 637.5h10M334 636.5h6M340 635.5h8M348 634.5h9M357 633.5h5M362 632.5h2M364 631.5h2M366 630.5h2M368 629.5h2M370 628.5h2M372 627.5h2M374 626.5h2M376 625.5h2M378 624.5h2M380 623.5h2M382 622.5h3M385 621.5h4M389 620.5h4M393 619.5h6M399 620.5h6M405 621.5h6M411 622.5h5M416 623.5h5M421 624.5h6M427 625.5h7M434 626.5h11M445 627.5h13M458 626.5h2M460 625.5h2M462 624.5h2M464 623.5h2M466 622.5h3M469 621.5h3M472 620.5h3M475 619.5h3M478 618.5h3M481 617.5h3M484 616.5h4M488 615.5h3M491 614.5h4M495 613.5h6M501 612.5h6M507 613.5h4M511 614.5h4M515 615.5h4M519 616.5h3M522 617.5h3M525 618.5h3M528 619.5h5M533 620.5h6M539 621.5h7M546 622.5h6M552 621.5h6M558 620.5h6M564 619.5h5M569 620.5h6M575 621.5h6M581 622.5h4M585 623.5h3M588 624.5h4M592 625.5h3M595 626.5h2M597 627.5h2M599 628.5h2M601 629.5h2M603 630.5h2M605 631.5h2M607 632.5h7M614 633.5h8M622 634.5h3M625 635.5h4M629 636.5h3M632 637.5h16M648 636.5h4M652 635.5h4M656 634.5h8M664 633.5h8M672 632.5h3M675 631.5h3M678 630.5h3M681 629.5h3M684 628.5h2M686 627.5h2M688 626.5h2M690 625.5h2M692 624.5h2M694 623.5h2M696 622.5h9M705 623.5h10M715 624.5h4M719 625.5h4M723 626.5h4M727 627.5h4M731 628.5h3M734 629.5h4M738 630.5h3M741 631.5h6M747 630.5h7M754 629.5h3M757 628.5h3M760 627.5h3M763 626.5h4M767 625.5h5M772 624.5h5M777 623.5h4M781 622.5h4M785 621.5h4M789 620.5h4M793 621.5h2M795 622.5h3M798 623.5h3M801 624.5h2M803 625.5h2M805 626.5h3M808 627.5h2M810 628.5h4M814 629.5h5M819 630.5h5M824 631.5h5M829 632.5h6M835 633.5h7M842 634.5h8M850 635.5h5M855 636.5h3M858 637.5h3M861 638.5h3M864 639.5h3M867 640.5h3M870 641.5h4M874 642.5h4M878 643.5h8M886 644.5h6" stroke="#006400" stroke-width="1" fill="none"/>
<path d="M3 611.5h5M8 610.5h6M14 609.5h2M16 608.5h2M18 607.5h2M19 608.5h1M20 609.5h1M20 610.5h1M21 611.5h1M21 612.5h1M21 613.5h1M22 614.5h1M22 615.5h1M22 616.5h1M23 617.5h1M23 618.5h1M24 619.5h1M24 620.5h1M25 621.5h1M26 622.5h1M27 623.5h1M28 624.5h2M30 625.5h1M31 626.5h1M32 627.5h21M53 626.5h2M55 625.5h2M57 624.5h2M59 623.5h5M64 622.5h4M67 623.5h1M68 624.5h1M68 625.5h1M68 626.5h1M68 627.5h1M69 628.5h1M69 629.5h1M69 630.5h1M69 631.5h1M70 632.5h1M70 633.5h1M70 634.5h1M70 635.5h1M71 636.5h1M71 637.5h1M71 638.5h1M71 639.5h1M72 640.5h1M72 641.5h1M72 642.5h1M72 643.5h1M73 644.5h1M73 645.5h1M73 646.5h2M75 645.5h2M77 644.5h3M80 643.5h5M85 642.5h6M91 641.5h4M95 640.5h1M96 639.5h1M96 638.5h1M97 637.5h1M98 636.5h1M99 635.5h1M99 634.5h1M100 633.5h2M102 632.5h4M106 631.5h4M110 632.5h4M114 633.5h7M121 632.5h6M127 631.5h2M129 630.5h2M131 629.5h2M133 628.5h5M138 629.5h4M142 628.5h2M144 627.5h2M146 626.5h2M148 625.5h1M149 626.5h1M150 627.5h2M152 628.5h1M153 629.5h1M154 630.5h1M155 631.5h2M157 632.5h1M158 633.5h1M159 634.5h2M161 635.5h2M163 636.5h2M165 635.5h1M165 634.5h1M166 633.5h1M166 632.5h1M167 631.5h1M167 630.5h1M168 629.5h1M168 628.5h1M169 627.5h1M169 626.5h1M170 625.5h1M170 626.5h1M171 627.5h1M171 628.5h1M172 629.5h1M172 630.5h1M173 631.5h1M173 632.5h1M174 633.5h1M174 634.5h1M174 635.5h1M175 636.5h1M175 637.5h1M176 638.5h1M176 639.5h1M177 640.5h1M177 641.5h1M178 642.5h1M178 643.5h1M179 644.5h1M180 645.5h1M181 646.5h1M182 647.5h1M183 648.5h1M184 649.5h1M185 650.5h1M186 651.5h1M187 650.5h1M188 649.5h2M190 648.5h1M191 647.5h1M192 646.5h1M193 645.5h1M194 644.5h1M195 643.5h1M196 642.5h1M196 641.5h1M197 640.5h1M198 639.5h1M199 638.5h1M200 637.5h5M205 636.5h7M212 635.5h3M215 634.5h4M219 633.5h3M222 632.5h4M226 631.5h3M229 630.5h4M233 629.5h3M236 630.5h3M239 631.5h3M242 630.5h4M246 629.5h3M249 630.5h2M251 631.5h2M253 632.5h3M256 633.5h2M258 634.5h2M260 635.5h2M262 636.5h2M264 637.5h2M266 638.5h2M268 639.5h1M269 640.5h1M270 641.5h1M270 642.5h1M271 643.5h1M272 644.5h1M273 645.5h2M275 644.5h3M278 643.5h12M290 642.5h2M292 641.5h2M294 640.5h2M296 639.5h2M298 638.5h1M299 637.5h1M300 636.5h1M301 635.5h1M301 634.5h1M302 633.5h1M303 632.5h1M304 631.5h1M305 630.5h1M305 629.5h1M306 628.5h1M306 627.5h1M307 626.5h1M307 625.5h1M308 624.5h1M308 623.5h1M309 622.5h1M309 621.5h1M310 620.5h1M311 621.5h1M312 622.5h1M312 623.5h1M313 624.5h1M314 625.5h1M315 626.5h1M315 627.5h1M316 628.5h1M316 629.5h1M317 630.5h1M317 631.5h1M317 632.5h1M317 633.5h1M318 634.5h1M318 635.5h1M318 636.5h1M319 637.5h1M319 638.5h1M319 639.5h1M319 640.5h1M320 641.5h1M320 642.5h1M321 643.5h2M323 644.5h1M324 645.5h2M326 646.5h2M328 645.5h2M330 644.5h3M333 643.5h2M335 642.5h1M336 641.5h1M337 640.5h2M339 639.5h1M340 638.5h1M341 637.5h1M342 636.5h1M343 635.5h2M345 634.5h1M346 633.5h1M347 632.5h1M347 631.5h1M348 630.5h1M348 629.5h1M349 628.5h1M350 627.5h1M350 626.5h1M351 625.5h1M351 624.5h1M352 623.5h1M352 622.5h1M353 621.5h1M354 620.5h1M355 619.5h1M356 618.5h1M357 617.5h1M358 616.5h2M360 615.5h2M362 614.5h3M365 615.5h3M368 616.5h4M372 617.5h2M374 618.5h2M376 619.5h2M378 620.5h1M379 621.5h2M381 622.5h2M383 623.5h7M390 622.5h2M392 621.5h2M394 620.5h3M397 621.5h2M399 622.5h2M401 623.5h2M403 624.5h2M405 625.5h2M407 626.5h2M409 625.5h3M412 626.5h2M414 627.5h3M417 628.5h18M435 629.5h7M442 628.5h2M444 627.5h2M446 626.5h4M450 627.5h3M453 628.5h1M454 629.5h1M454 630.5h1M455 631.5h1M456 632.5h1M456 631.5h1M456 630.5h1M457 629.5h1M457 628.5h1M457 627.5h1M457 626.5h1M457 625.5h1M457 624.5h1M458 623.5h1M458 622.5h1M458 621.5h1M458 620.5h1M458 619.5h1M459 618.5h1M459 617.5h1M459 616.5h1M459 615.5h1M459 614.5h1M459 613.5h1M460 612.5h1M460 611.5h1M460 610.5h1M461 609.5h1M462 608.5h1M463 607.5h1M464 606.5h1M465 605.5h1M466 604.5h1M467 603.5h1M468 604.5h1M469 605.5h1M470 606.5h1M471 607.5h1M472 608.5h2M474 609.5h1M475 610.5h1M476 611.5h1M477 612.5h2M479 611.5h3M482 610.5h5M487 611.5h1M488 612.5h1M489 613.5h1M490 614.5h2M492 615.5h1M493 616.5h1M494 617.5h3M497 618.5h4M501 619.5h4M505 620.5h4M509 621.5h2M511 622.5h2M513 623.5h2M515 624.5h2M517 625.5h2M519 626.5h3M522 625.5h2M524 624.5h2M526 623.5h2M528 622.5h4M532 621.5h6M538 620.5h9M547 621.5h6M553 620.5h1M553 619.5h1M554 618.5h1M554 617.5h1M555 616.5h1M555 615.5h1M556 614.5h1M556 613.5h1M557 612.5h1M557 611.5h1M558 610.5h1M559 611.5h2M561 612.5h2M563 613.5h2M565 614.5h1M566 615.5h1M566 616.5h1M567 617.5h1M568 618.5h1M568 619.5h1M569 620.5h1M570 621.5h1M571 622.5h1M571 623.5h1M572 624.5h1M573 625.5h1M573 626.5h1M574 627.5h2M576 628.5h4M580 629.5h2M582 630.5h1M583 631.5h1M584 632.5h1M585 633.5h1M586 634.5h1M587 635.5h1M588 636.5h1M589 637.5h1M590 638.5h2M592 639.5h2M594 640.5h2M596 641.5h1M597 642.5h1M598 643.5h1M599 644.5h1M600 645.5h1M601 646.5h1M601 645.5h1M602 644.5h1M602 643.5h1M603 642.5h1M603 641.5h1M604 640.5h1M604 639.5h1M605 638.5h1M605 637.5h1M606 636.5h1M606 635.5h1M607 634.5h1M607 633.5h1M608 632.5h1M608 631.5h1M609 630.5h1M610 629.5h2M612 628.5h1M613 627.5h1M614 626.5h2M616 625.5h1M617 624.5h1M618 625.5h1M618 626.5h1M619 627.5h1M620 628.5h1M620 629.5h1M621 630.5h1M622 631.5h1M623 632.5h1M623 633.5h1M624 634.5h1M625 635.5h1M625 636.5h1M626 637.5h1M627 638.5h1M627 639.5h1M628 640.5h2M630 641.5h4M634 642.5h3M637 641.5h3M640 640.5h3M643 639.5h2M645 638.5h1M646 637.5h1M647 636.5h1M648 635.5h1M649 634.5h1M650 633.5h1M651 632.5h1M651 631.5h1M652 630.5h1M653 629.5h1M654 628.5h1M654 627.5h1M655 626.5h3M658 627.5h5M663 626.5h5M668 625.5h3M671 624.5h2M673 623.5h1M674 622.5h1M675 621.5h2M677 620.5h3M680 621.5h4M684 620.5h3M687 619.5h2M689 618.5h3M692 617.5h2M694 618.5h1M695 619.5h2M697 620.5h1M698 621.5h1M699 622.5h1M699 623.5h1M700 624.5h1M701 625.5h1M702 626.5h1M703 627.5h1M703 628.5h1M704 629.5h1M705 630.5h2M707 629.5h2M709 628.5h2M711 627.5h2M713 628.5h2M715 629.5h2M717 630.5h2M719 631.5h2M721 632.5h5M726 633.5h4M730 634.5h2M732 635.5h1M733 636.5h1M734 637.5h2M736 638.5h1M737 637.5h2M739 636.5h2M741 635.5h2M743 634.5h2M745 633.5h2M747 632.5h1M747 631.5h1M747 630.5h1M748 629.5h1M748 628.5h1M748 627.5h1M748 626.5h1M748 625.5h1M749 624.5h1M749 623.5h1M749 622.5h1M749 621.5h1M749 620.5h1M749 619.5h1M750 618.5h1M750 617.5h1M750 616.5h1M751 615.5h1M752 614.5h2M754 613.5h1M755 612.5h8M763 613.5h1M764 614.5h1M765 615.5h1M766 616.5h2M768 617.5h1M769 618.5h1M770 619.5h1M771 620.5h4M775 619.5h5M780 620.5h1M781 621.5h1M782 622.5h1M782 623.5h1M783 624.5h1M784 625.5h1M785 626.5h1M785 627.5h1M786 628.5h1M787 629.5h1M787 630.5h1M788 631.5h1M788 632.5h1M789 633.5h1M790 634.5h1M791 635.5h1M792 636.5h2M794 637.5h1M795 638.5h1M796 637.5h2M798 636.5h1M799 635.5h2M801 634.5h5M806 633.5h6M812 632.5h2M814 631.5h2M816 630.5h1M817 629.5h2M819 628.5h2M821 627.5h1M822 628.5h1M823 629.5h1M824 630.5h1M825 631.5h1M825 632.5h1M826 633.5h1M827 634.5h1M828 635.5h2M830 636.5h2M832 637.5h6M838 636.5h6M844 637.5h1M845 638.5h2M847 639.5h1M848 640.5h1M849 641.5h2M851 642.5h1M852 643.5h1M853 644.5h2M855 645.5h1M856 646.5h4M860 645.5h5M865 646.5h2M867 647.5h3M870 648.5h2M872 647.5h2M874 646.5h1M875 645.5h2M877 644.5h2M879 645.5h3M882 646.5h2M884 645.5h1M884 644.5h1M885 643.5h1M886 642.5h1M886 641.5h1M887 640.5h1M887 639.5h1M888 638.5h2M890 637.5h2" stroke="#ff0000" stroke-width="1" fill="none"/>
</g>
<text transform="translate(19 606) scale(0.822 1)" fill="#ff0000">CCI [20]:-71.4625</text>
<text transform="translate(19 620) scale(0.822 1)" fill="#006400">SMA [CCI, 9]:-143.53902</text>
<path d="M4 596.5h1M5 597.5h1M5 598.5h1M6 599.5h1M6 600.5h1M7 601.5h1M7 602.5h1M8 603.5h1M8 604.5h1M9 605.5h1M9 606.5h1M10 605.5h1M10 604.5h1M11 603.5h1M11 602.5h1M12 601.5h1M12 600.5h1M13 599.5h1M13 598.5h1M14 597.5h1M14 596.5h1" stroke="#ff0000" stroke-width="1" fill="none"/>
<path d="M4 606.5h1M5 605.5h1M5 604.5h1M6 603.5h1M6 602.5h1M7 601.5h1M7 600.5h1M8 599.5h1M8 598.5h1M9 597.5h1M9 596.5h1M10 597.5h1M10 598.5h1M11 599.5h1M11 600.5h1M12 601.5h1M12 602.5h1M13 603.5h1M13 604.5h1M14 605.5h1M14 606.5h1" stroke="#ff0000" stroke-width="1" fill="none"/>
<path d="M4 610.5h1M5 611.5h1M5 612.5h1M6 613.5h1M6 614.5h1M7 615.5h1M7 616.5h1M8 617.5h1M8 618.5h1M9 619.5h1M9 620.5h1M10 619.5h1M10 618.5h1M11 617.5h1M11 616.5h1M12 615.5h1M12 614.5h1M13 613.5h1M13 612.5h1M14 611.5h1M14 610.5h1" stroke="#006400" stroke-width="1" fill="none"/>
<path d="M4 620.5h1M5 619.5h1M5 618.5h1M6 617.5h1M6 616.5h1M7 615.5h1M7 614.5h1M8 613.5h1M8 612.5h1M9 611.5h1M9 610.5h1M10 611.5h1M10 612.5h1M11 613.5h1M11 614.5h1M12 615.5h1M12 616.5h1M13 617.5h1M13 618.5h1M14 619.5h1M14 620.5h1" stroke="#006400" stroke-width="1" fill="none"/>
<rect x="0" y="663" width="967" height="1" fill="#909090"/>
<rect x="0" y="695" width="967" height="1" fill="#fff"/>
<rect x="966" y="664" width="1" height="32" fill="#fff"/>
<rect x="24" y="665" width="1" height="5" fill="#000"/>
<text transform="translate(24.5 683) scale(0.822 1)" fill="#000">23.</text>
<rect x="73" y="665" width="1" height="5" fill="#000"/>
<text transform="translate(73.5 683) scale(0.822 1)" fill="#000">24.</text>
<rect x="121" y="665" width="1" height="5" fill="#000"/>
<text transform="translate(121.5 683) scale(0.822 1)" fill="#000">25.</text>
<rect x="170" y="665" width="1" height="5" fill="#000"/>
<text transform="translate(170.5 683) scale(0.822 1)" fill="#000">28.</text>
<rect x="218" y="665" width="1" height="5" fill="#000"/>
<text transform="translate(218.5 683) scale(0.822 1)" fill="#000">29.</text>
<rect x="267" y="665" width="1" height="5" fill="#000"/>
<text transform="translate(267.5 683) scale(0.822 1)" fill="#000">30.</text>
<rect x="316" y="665" width="1" height="5" fill="#000"/>
<text transform="translate(316.5 683) scale(0.822 1)" fill="#000">Jul</text>
<rect x="364" y="665" width="1" height="5" fill="#000"/>
<text transform="translate(364.5 683) scale(0.822 1)" fill="#000">2.</text>
<rect x="413" y="665" width="1" height="5" fill="#000"/>
<text transform="translate(413.5 683) scale(0.822 1)" fill="#000">5.</text>
<rect x="461" y="665" width="1" height="5" fill="#000"/>
<text transform="translate(461.5 683) scale(0.822 1)" fill="#000">6.</text>
<rect x="510" y="665" width="1" height="5" fill="#000"/>
<text transform="translate(510.5 683) scale(0.822 1)" fill="#000">7.</text>
<rect x="558" y="665" width="1" height="5" fill="#000"/>
<text transform="translate(558.5 683) scale(0.822 1)" fill="#000">8.</text>
<rect x="607" y="665" width="1" height="5" fill="#000"/>
<text transform="translate(607.5 683) scale(0.822 1)" fill="#000">9.</text>
<rect x="655" y="665" width="1" height="5" fill="#000"/>
<text transform="translate(655.5 683) scale(0.822 1)" fill="#000">12.</text>
<rect x="704" y="665" width="1" height="5" fill="#000"/>
<text transform="translate(704.5 683) scale(0.822 1)" fill="#000">13.</text>
<rect x="752" y="665" width="1" height="5" fill="#000"/>
<text transform="translate(752.5 683) scale(0.822 1)" fill="#000">14.</text>
<rect x="801" y="665" width="1" height="5" fill="#000"/>
<text transform="translate(801.5 683) scale(0.822 1)" fill="#000">15.</text>
<rect x="849" y="665" width="1" height="5" fill="#000"/>
<text transform="translate(849.5 683) scale(0.822 1)" fill="#000">16.</text>
<text y="705.5" x="336.5" fill="#979797" style="font-size:11.8px" textLength="350" lengthAdjust="spacingAndGlyphs">TradeSignal&#174; and www.technical-investor.de &#169; by&#160; SystemSoft, www.systemsoft.de</text>
<rect x="966" y="0" width="1" height="16" fill="#b4b4b4"/><rect x="967" y="0" width="1" height="16" fill="#8e8e8e"/>
<rect x="966" y="0" width="58" height="1" fill="#a8a8a8"/>
<rect x="966" y="16" width="58" height="1" fill="#fff"/>
<rect x="1023" y="0" width="1" height="16" fill="#f4f4f4"/>
<rect x="966" y="17" width="1" height="513" fill="#b4b4b4"/><rect x="967" y="17" width="1" height="513" fill="#8e8e8e"/>
<rect x="966" y="17" width="58" height="1" fill="#a8a8a8"/>
<rect x="966" y="530" width="58" height="1" fill="#fff"/>
<rect x="1023" y="17" width="1" height="513" fill="#f4f4f4"/>
<rect x="966" y="533" width="1" height="16" fill="#b4b4b4"/><rect x="967" y="533" width="1" height="16" fill="#8e8e8e"/>
<rect x="966" y="533" width="58" height="1" fill="#a8a8a8"/>
<rect x="966" y="549" width="58" height="1" fill="#fff"/>
<rect x="1023" y="533" width="1" height="16" fill="#f4f4f4"/>
<rect x="966" y="550" width="1" height="40" fill="#b4b4b4"/><rect x="967" y="550" width="1" height="40" fill="#8e8e8e"/>
<rect x="966" y="550" width="58" height="1" fill="#a8a8a8"/>
<rect x="966" y="590" width="58" height="1" fill="#fff"/>
<rect x="1023" y="550" width="1" height="40" fill="#f4f4f4"/>
<rect x="966" y="592" width="1" height="16" fill="#b4b4b4"/><rect x="967" y="592" width="1" height="16" fill="#8e8e8e"/>
<rect x="966" y="592" width="58" height="1" fill="#a8a8a8"/>
<rect x="966" y="608" width="58" height="1" fill="#fff"/>
<rect x="1023" y="592" width="1" height="16" fill="#f4f4f4"/>
<rect x="966" y="609" width="1" height="54" fill="#b4b4b4"/><rect x="967" y="609" width="1" height="54" fill="#8e8e8e"/>
<rect x="966" y="609" width="58" height="1" fill="#a8a8a8"/>
<rect x="966" y="663" width="58" height="1" fill="#fff"/>
<rect x="1023" y="609" width="1" height="54" fill="#f4f4f4"/>
<g fill="#000">
<text transform="translate(1020.5 13) scale(0.822 1)" text-anchor="end">EUR</text>
<text transform="translate(1020.5 546) scale(0.822 1)" text-anchor="end">MOM</text>
<text transform="translate(1020.5 605) scale(0.822 1)" text-anchor="end">CCI</text>
</g>
<g fill="#000">
<rect x="969" y="20" width="1" height="1"/>
<rect x="969" y="25" width="1" height="1"/>
<rect x="969" y="29" width="1" height="1"/>
<rect x="969" y="34" width="1" height="1"/>
<rect x="969" y="39" width="1" height="1"/>
<rect x="969" y="44" width="1" height="1"/>
<rect x="969" y="49" width="1" height="1"/>
<rect x="969" y="54" width="1" height="1"/>
<rect x="969" y="59" width="1" height="1"/>
<rect x="969" y="64" width="1" height="1"/>
<rect x="969" y="69" width="1" height="1"/>
<rect x="969" y="74" width="1" height="1"/>
<rect x="969" y="78" width="1" height="1"/>
<rect x="969" y="83" width="1" height="1"/>
<rect x="969" y="88" width="1" height="1"/>
<rect x="969" y="93" width="1" height="1"/>
<rect x="969" y="98" width="1" height="1"/>
<rect x="969" y="103" width="1" height="1"/>
<rect x="969" y="109" width="1" height="1"/>
<rect x="969" y="114" width="1" height="1"/>
<rect x="969" y="119" width="1" height="1"/>
<rect x="969" y="124" width="1" height="1"/>
<rect x="969" y="129" width="1" height="1"/>
<rect x="969" y="134" width="1" height="1"/>
<rect x="969" y="139" width="1" height="1"/>
<rect x="969" y="144" width="1" height="1"/>
<rect x="969" y="149" width="1" height="1"/>
<rect x="969" y="154" width="1" height="1"/>
<rect x="969" y="160" width="1" height="1"/>
<rect x="969" y="165" width="1" height="1"/>
<rect x="969" y="170" width="1" height="1"/>
<rect x="969" y="175" width="1" height="1"/>
<rect x="969" y="180" width="1" height="1"/>
<rect x="969" y="186" width="1" height="1"/>
<rect x="969" y="191" width="1" height="1"/>
<rect x="969" y="196" width="1" height="1"/>
<rect x="969" y="201" width="1" height="1"/>
<rect x="969" y="207" width="1" height="1"/>
<rect x="969" y="212" width="1" height="1"/>
<rect x="969" y="217" width="1" height="1"/>
<rect x="969" y="223" width="1" height="1"/>
<rect x="969" y="228" width="1" height="1"/>
<rect x="969" y="233" width="1" height="1"/>
<rect x="969" y="239" width="1" height="1"/>
<rect x="969" y="244" width="1" height="1"/>
<rect x="969" y="250" width="1" height="1"/>
<rect x="969" y="255" width="1" height="1"/>
<rect x="969" y="260" width="1" height="1"/>
<rect x="969" y="266" width="1" height="1"/>
<rect x="969" y="271" width="1" height="1"/>
<rect x="969" y="277" width="1" height="1"/>
<rect x="969" y="282" width="1" height="1"/>
<rect x="969" y="288" width="1" height="1"/>
<rect x="969" y="293" width="1" height="1"/>
<rect x="969" y="299" width="1" height="1"/>
<rect x="969" y="304" width="1" height="1"/>
<rect x="969" y="310" width="1" height="1"/>
<rect x="969" y="316" width="1" height="1"/>
<rect x="969" y="321" width="1" height="1"/>
<rect x="969" y="327" width="1" height="1"/>
<rect x="969" y="333" width="1" height="1"/>
<rect x="969" y="338" width="1" height="1"/>
<rect x="969" y="344" width="1" height="1"/>
<rect x="969" y="350" width="1" height="1"/>
<rect x="969" y="355" width="1" height="1"/>
<rect x="969" y="361" width="1" height="1"/>
<rect x="969" y="367" width="1" height="1"/>
<rect x="969" y="372" width="1" height="1"/>
<rect x="969" y="378" width="1" height="1"/>
<rect x="969" y="384" width="1" height="1"/>
<rect x="969" y="390" width="1" height="1"/>
<rect x="969" y="396" width="1" height="1"/>
<rect x="969" y="401" width="1" height="1"/>
<rect x="969" y="407" width="1" height="1"/>
<rect x="969" y="413" width="1" height="1"/>
<rect x="969" y="419" width="1" height="1"/>
<rect x="969" y="425" width="1" height="1"/>
<rect x="969" y="431" width="1" height="1"/>
<rect x="969" y="437" width="1" height="1"/>
<rect x="969" y="443" width="1" height="1"/>
<rect x="969" y="449" width="1" height="1"/>
<rect x="969" y="455" width="1" height="1"/>
<rect x="969" y="461" width="1" height="1"/>
<rect x="969" y="467" width="1" height="1"/>
<rect x="969" y="473" width="1" height="1"/>
<rect x="969" y="479" width="1" height="1"/>
<rect x="969" y="485" width="1" height="1"/>
<rect x="969" y="491" width="1" height="1"/>
<rect x="969" y="497" width="1" height="1"/>
<rect x="969" y="503" width="1" height="1"/>
<rect x="969" y="510" width="1" height="1"/>
<rect x="969" y="516" width="1" height="1"/>
<rect x="969" y="522" width="1" height="1"/>
</g>
<rect x="969" y="553" width="1" height="1" fill="#000"/>
<rect x="969" y="559" width="1" height="1" fill="#000"/>
<rect x="969" y="565" width="1" height="1" fill="#000"/>
<rect x="969" y="572" width="1" height="1" fill="#000"/>
<rect x="969" y="578" width="1" height="1" fill="#000"/>
<rect x="969" y="584" width="1" height="1" fill="#000"/>
<rect x="969" y="611" width="1" height="1" fill="#000"/>
<rect x="969" y="616" width="1" height="1" fill="#000"/>
<rect x="969" y="620" width="1" height="1" fill="#000"/>
<rect x="969" y="625" width="1" height="1" fill="#000"/>
<rect x="969" y="635" width="1" height="1" fill="#000"/>
<rect x="969" y="640" width="1" height="1" fill="#000"/>
<rect x="969" y="645" width="1" height="1" fill="#000"/>
<rect x="969" y="655" width="1" height="1" fill="#000"/>
<rect x="969" y="660" width="1" height="1" fill="#000"/>
<g fill="#000">
<rect x="969" y="54" width="3" height="1"/>
<text transform="translate(974.5 59) scale(0.822 1)">20,2</text>
<rect x="969" y="74" width="3" height="1"/>
<text transform="translate(974.5 79) scale(0.822 1)">20</text>
<rect x="969" y="93" width="3" height="1"/>
<text transform="translate(974.5 98) scale(0.822 1)">19,8</text>
<rect x="969" y="114" width="3" height="1"/>
<text transform="translate(974.5 119) scale(0.822 1)">19,6</text>
<rect x="969" y="134" width="3" height="1"/>
<text transform="translate(974.5 139) scale(0.822 1)">19,4</text>
<rect x="969" y="154" width="3" height="1"/>
<text transform="translate(974.5 159) scale(0.822 1)">19,2</text>
<rect x="969" y="175" width="3" height="1"/>
<text transform="translate(974.5 180) scale(0.822 1)">19</text>
<rect x="969" y="196" width="3" height="1"/>
<text transform="translate(974.5 201) scale(0.822 1)">18,8</text>
<rect x="969" y="217" width="3" height="1"/>
<text transform="translate(974.5 222) scale(0.822 1)">18,6</text>
<rect x="969" y="239" width="3" height="1"/>
<text transform="translate(974.5 244) scale(0.822 1)">18,4</text>
<rect x="969" y="260" width="3" height="1"/>
<text transform="translate(974.5 265) scale(0.822 1)">18,2</text>
<rect x="969" y="282" width="3" height="1"/>
<text transform="translate(974.5 287) scale(0.822 1)">18</text>
<rect x="969" y="304" width="3" height="1"/>
<text transform="translate(974.5 309) scale(0.822 1)">17,8</text>
<rect x="969" y="327" width="3" height="1"/>
<text transform="translate(974.5 332) scale(0.822 1)">17,6</text>
<rect x="969" y="350" width="3" height="1"/>
<text transform="translate(974.5 355) scale(0.822 1)">17,4</text>
<rect x="969" y="372" width="3" height="1"/>
<text transform="translate(974.5 377) scale(0.822 1)">17,2</text>
<rect x="969" y="396" width="3" height="1"/>
<text transform="translate(974.5 401) scale(0.822 1)">17</text>
<rect x="969" y="419" width="3" height="1"/>
<text transform="translate(974.5 424) scale(0.822 1)">16,8</text>
<rect x="969" y="443" width="3" height="1"/>
<text transform="translate(974.5 448) scale(0.822 1)">16,6</text>
<rect x="969" y="467" width="3" height="1"/>
<text transform="translate(974.5 472) scale(0.822 1)">16,4</text>
<rect x="969" y="491" width="3" height="1"/>
<text transform="translate(974.5 496) scale(0.822 1)">16,2</text>
<rect x="969" y="516" width="3" height="1"/>
<text transform="translate(974.5 521) scale(0.822 1)">16</text>
<rect x="969" y="630" width="3" height="1"/><text transform="translate(975 635) scale(0.822 1)">0</text>
<rect x="969" y="650" width="3" height="1"/><text transform="translate(974.5 655) scale(0.822 1)">-200</text>
</g>
</svg></body></html>
